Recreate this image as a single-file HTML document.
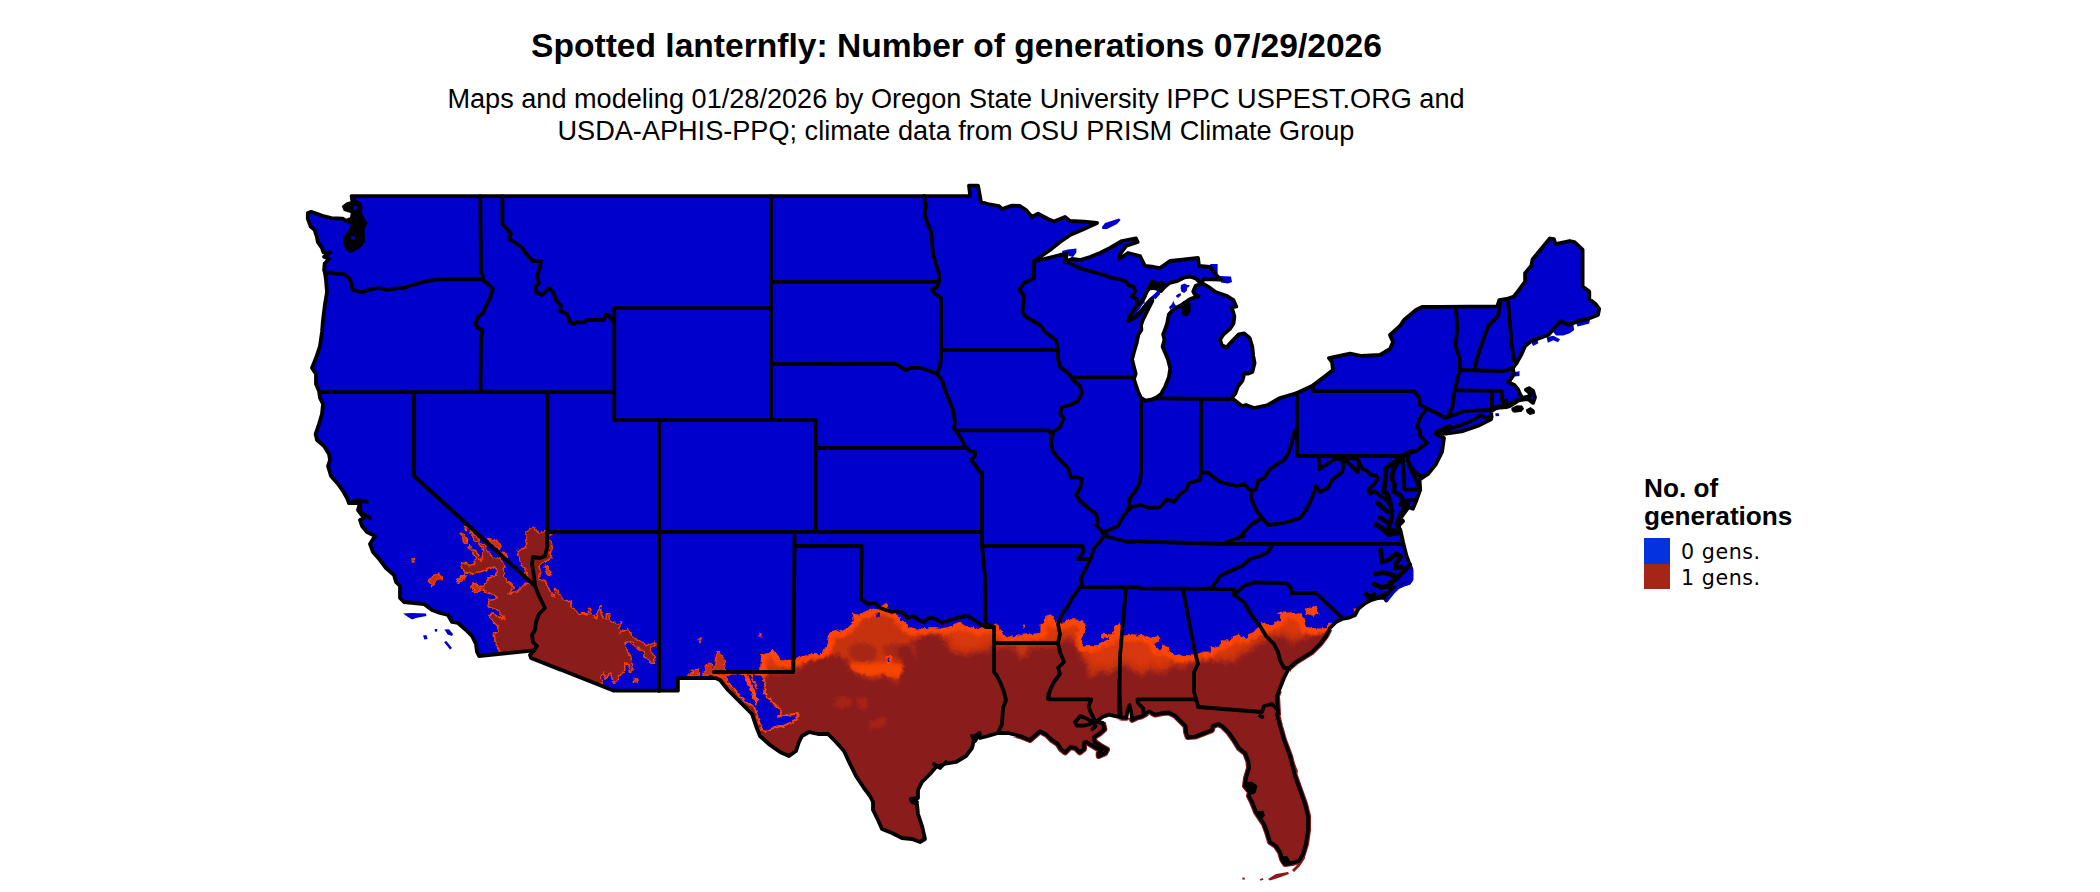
<!DOCTYPE html>
<html lang="en"><head><meta charset="utf-8"><title>Spotted lanternfly: Number of generations</title>
<style>
html,body{margin:0;padding:0;background:#fff;}
body{width:2100px;height:892px;overflow:hidden;position:relative;font-family:"Liberation Sans",Arial,sans-serif;color:#000;}
#title{position:absolute;left:0;width:1913px;top:28px;text-align:center;font-weight:bold;font-size:33.6px;line-height:36px;white-space:nowrap;}
#sub{position:absolute;left:0;width:1912px;top:83px;text-align:center;font-size:27.12px;line-height:32px;white-space:nowrap;}
#legt{position:absolute;left:1644px;top:475px;font-weight:bold;font-size:26.2px;line-height:27.5px;}
.sw{position:absolute;left:1644px;width:26px;height:26px;}
.ll{position:absolute;left:1681px;font-family:"DejaVu Sans","Liberation Sans",sans-serif;font-size:20.6px;line-height:26px;letter-spacing:0.57px;}
svg{position:absolute;left:0;top:0;}
</style></head><body>
<div id="title">Spotted lanternfly: Number of generations 07/29/2026</div>
<div id="sub">Maps and modeling 01/28/2026 by Oregon State University IPPC USPEST.ORG and<br>USDA-APHIS-PPQ; climate data from OSU PRISM Climate Group</div>
<div id="legt">No. of<br>generations</div>
<div class="sw" style="top:538px;background:#0432df"></div><div class="sw" style="top:564px;height:24.7px;background:#a52616"></div>
<div class="ll" style="top:538.8px">0 gens.</div><div class="ll" style="top:564.8px">1 gens.</div>
<svg width="2100" height="892" viewBox="0 0 2100 892">
<defs><clipPath id="land"><path d="M352.0 196.1 L970.2 196.1 L969.0 185.6 L978.0 185.6 L981.0 202.0 L988.0 204.0 L999.0 206.0 L1002.0 209.0 L1012.0 205.6 L1020.0 206.0 L1026.0 210.0 L1032.0 217.0 L1038.0 213.6 L1048.0 219.0 L1054.0 221.6 L1065.0 217.0 L1070.0 221.0 L1084.0 221.6 L1097.0 223.0 L1084.0 229.0 L1070.0 235.0 L1060.0 242.0 L1050.0 250.0 L1040.0 257.0 L1034.0 261.0 L1044.0 259.0 L1060.0 255.0 L1067.0 254.0 L1065.0 262.0 L1072.0 259.0 L1080.0 260.0 L1090.0 257.0 L1100.0 253.0 L1110.0 248.0 L1122.0 241.0 L1136.0 238.4 L1137.6 242.0 L1126.0 246.0 L1120.0 254.0 L1119.0 259.0 L1128.0 253.0 L1140.0 256.0 L1145.0 266.0 L1154.0 267.0 L1160.0 268.0 L1170.0 261.0 L1180.0 260.0 L1198.0 258.0 L1199.0 266.0 L1210.0 267.0 L1216.0 275.0 L1221.0 279.6 L1204.0 279.0 L1201.2 282.6 L1208.4 286.8 L1215.5 292.1 L1226.3 295.7 L1233.5 300.2 L1236.2 306.5 L1231.7 307.4 L1234.4 316.4 L1233.5 323.5 L1229.9 328.9 L1223.6 334.3 L1220.0 339.7 L1221.8 345.0 L1226.3 347.7 L1231.7 341.5 L1238.8 334.3 L1244.2 333.4 L1249.6 337.9 L1252.3 346.8 L1253.2 355.8 L1254.6 363.0 L1252.3 371.9 L1247.8 373.7 L1244.2 373.7 L1242.4 380.9 L1238.0 386.3 L1235.3 393.5 L1231.7 398.0 L1242.0 406.0 L1246.0 405.0 L1254.0 408.0 L1268.0 405.0 L1280.0 398.0 L1297.0 393.0 L1312.0 386.0 L1324.0 377.0 L1333.0 370.0 L1332.0 362.0 L1329.0 358.0 L1350.0 353.6 L1362.0 356.0 L1380.0 355.0 L1390.0 349.0 L1393.0 342.0 L1390.0 335.0 L1400.0 326.0 L1404.0 320.0 L1416.0 310.0 L1422.0 307.0 L1440.0 306.9 L1497.3 306.4 L1499.2 300.2 L1506.6 299.0 L1514.0 296.5 L1517.7 291.6 L1521.4 286.6 L1525.1 281.7 L1525.1 273.1 L1531.3 265.7 L1532.5 259.5 L1549.8 238.5 L1554.0 239.2 L1555.5 244.2 L1569.6 241.0 L1574.5 242.2 L1582.6 249.6 L1582.6 286.6 L1589.3 291.6 L1589.3 299.0 L1595.5 303.9 L1599.2 308.8 L1597.9 315.0 L1588.1 318.7 L1578.2 321.2 L1568.3 324.9 L1560.9 321.2 L1556.0 326.1 L1548.6 334.7 L1538.7 338.4 L1531.3 340.9 L1525.1 345.9 L1521.4 354.5 L1516.5 363.1 L1512.8 368.1 L1514.0 374.2 L1509.1 381.6 L1507.9 382.4 L1514.1 384.7 L1518.1 389.4 L1520.4 394.9 L1522.8 397.9 L1529.8 396.1 L1529.2 392.6 L1525.9 389.8 L1529.1 388.1 L1533.0 390.8 L1535.0 397.3 L1533.1 402.9 L1528.3 399.2 L1522.8 399.6 L1518.1 400.6 L1514.1 403.5 L1510.2 405.9 L1506.3 407.1 L1500.0 407.5 L1495.3 408.6 L1491.0 411.4 L1491.6 416.9 L1491.0 419.2 L1479.6 425.1 L1461.6 431.4 L1445.9 433.7 L1435.7 434.1 L1444.0 438.0 L1442.0 452.0 L1436.0 464.0 L1428.0 474.0 L1422.0 478.0 L1419.5 479.5 L1420.2 489.7 L1416.6 499.9 L1412.9 508.7 L1408.6 507.2 L1402.0 516.0 L1397.6 524.7 L1400.5 530.5 L1403.1 542.4 L1406.5 555.9 L1409.8 564.8 L1411.5 569.3 L1411.5 579.4 L1409.0 583.0 L1403.1 584.8 L1397.5 587.6 L1393.0 592.1 L1388.6 597.7 L1386.3 600.5 L1384.6 597.9 L1378.5 597.9 L1371.7 599.8 L1365.0 603.2 L1358.3 608.8 L1354.9 615.3 L1348.0 618.0 L1342.0 619.0 L1336.0 622.0 L1330.0 628.0 L1326.0 636.0 L1320.0 644.0 L1312.0 652.0 L1304.0 657.0 L1296.0 662.0 L1289.0 668.0 L1284.0 678.0 L1280.0 688.0 L1277.0 696.0 L1278.0 714.0 L1277.0 714.0 L1280.0 726.0 L1284.0 740.0 L1290.0 756.0 L1292.0 764.0 L1295.0 776.0 L1300.0 790.0 L1305.0 804.0 L1308.0 816.0 L1308.0 830.0 L1306.0 844.0 L1303.0 854.0 L1299.0 861.0 L1292.0 863.0 L1285.0 864.0 L1282.0 859.0 L1280.0 852.0 L1276.0 846.0 L1270.0 842.0 L1267.0 832.0 L1264.0 824.0 L1260.0 818.0 L1256.0 812.0 L1252.0 802.0 L1249.0 796.0 L1250.0 792.0 L1245.0 786.0 L1246.0 778.0 L1249.0 768.0 L1248.5 761.7 L1245.3 753.3 L1239.0 748.1 L1233.8 739.7 L1228.6 732.4 L1222.3 726.1 L1218.1 724.0 L1212.9 726.1 L1211.8 730.3 L1203.4 733.4 L1195.0 736.6 L1187.7 737.1 L1186.1 732.4 L1185.6 726.1 L1180.4 720.9 L1175.1 715.6 L1168.9 712.5 L1162.6 713.0 L1155.2 714.6 L1149.0 711.4 L1144.8 714.6 L1140.6 716.7 L1136.4 717.7 L1132.2 719.8 L1131.1 711.4 L1129.6 705.1 L1127.5 710.4 L1126.4 717.7 L1122.8 717.7 L1117.5 716.7 L1109.1 714.6 L1102.9 716.7 L1098.7 719.8 L1095.5 721.9 L1102.9 723.0 L1104.4 729.2 L1099.7 733.4 L1094.0 737.1 L1094.5 741.8 L1100.8 746.0 L1107.0 749.7 L1105.0 753.3 L1098.7 756.0 L1098.7 753.3 L1101.8 750.2 L1096.6 748.1 L1091.3 745.0 L1086.1 741.8 L1084.0 742.9 L1084.0 749.1 L1079.8 752.3 L1075.6 748.1 L1070.4 747.0 L1065.1 752.3 L1061.0 749.1 L1057.8 743.9 L1051.5 739.7 L1046.3 734.5 L1040.0 731.3 L1030.0 740.0 L1020.0 736.0 L1008.0 733.0 L998.0 733.0 L988.0 736.0 L980.0 738.0 L979.0 733.0 L975.0 736.0 L972.0 748.0 L966.0 756.0 L956.0 762.0 L944.0 764.0 L936.0 767.0 L930.0 774.0 L922.0 782.0 L918.0 790.0 L918.0 798.0 L911.0 799.0 L912.0 802.0 L917.0 804.0 L918.0 814.0 L922.0 826.0 L925.0 839.0 L920.0 842.0 L912.0 839.0 L902.0 838.0 L892.0 833.0 L882.0 829.0 L878.0 820.0 L873.0 810.0 L873.0 802.0 L870.0 796.0 L864.0 788.0 L856.0 776.0 L850.0 764.0 L844.0 751.0 L836.0 742.0 L828.0 734.0 L818.0 734.0 L809.0 732.0 L802.0 736.0 L799.0 742.0 L796.0 751.0 L789.0 756.0 L780.0 752.0 L770.0 745.0 L760.0 736.0 L756.0 726.0 L752.0 714.0 L750.0 712.0 L740.0 702.0 L728.0 690.0 L720.0 680.0 L715.5 678.1 L677.9 678.1 L677.9 690.7 L613.9 690.7 L531.0 658.0 L530.0 655.0 L534.0 650.4 L479.0 656.0 L477.0 652.0 L476.0 644.0 L472.0 636.0 L466.0 630.0 L458.0 623.0 L452.0 622.0 L448.0 615.0 L440.0 613.0 L432.0 610.0 L424.0 604.0 L414.0 603.0 L404.0 602.0 L400.0 598.0 L400.0 586.0 L396.0 582.0 L394.0 575.0 L386.0 568.0 L380.0 560.0 L373.0 552.0 L370.0 544.0 L375.0 536.0 L367.0 532.0 L362.0 526.0 L360.0 520.0 L364.0 518.0 L358.0 510.0 L360.0 503.0 L349.0 503.0 L347.0 498.0 L343.0 491.0 L338.0 484.0 L331.0 476.0 L328.0 466.0 L330.0 460.0 L329.0 454.0 L324.0 446.0 L317.0 440.0 L315.6 434.0 L319.0 424.0 L322.0 414.0 L323.0 404.0 L320.0 398.0 L319.0 391.0 L316.0 384.0 L316.0 374.0 L312.0 368.0 L316.0 358.0 L320.0 346.0 L322.0 332.0 L323.0 320.0 L325.0 304.0 L327.0 292.0 L326.0 280.0 L325.0 273.0 L324.1 270.2 L324.7 263.5 L329.1 259.0 L324.1 256.7 L330.3 252.3 L323.5 252.3 L321.9 247.8 L317.9 242.2 L316.8 236.6 L314.6 229.8 L310.7 226.5 L307.8 218.6 L307.8 213.0 L311.2 211.9 L322.4 215.8 L331.4 218.1 L342.6 218.6 L346.0 220.9 L351.6 218.6 L352.7 213.0 L352.7 201.8 L351.6 196.2 Z"/><path d="M1495.3 413.3 L1498.8 413.3 L1499.2 416.1 L1495.7 416.2 Z"/></clipPath><clipPath id="seout"><path d="M712.7 672.1 L760.2 672.1 L761.1 655.6 L769.2 652.0 L772.8 648.5 L778.2 655.6 L780.0 660.3 L791.1 660.9 L794.8 660.3 L798.5 657.8 L810.8 654.1 L821.9 654.1 L823.2 649.2 L826.9 648.0 L828.1 641.8 L829.3 633.2 L836.7 629.5 L841.7 631.9 L849.1 625.8 L854.0 620.8 L852.8 613.4 L858.9 614.7 L866.3 611.6 L873.7 608.5 L877.4 609.7 L882.4 606.0 L886.7 602.3 L886.7 607.3 L891.0 611.0 L898.4 614.7 L900.2 619.6 L907.0 622.7 L908.3 628.2 L915.7 629.5 L924.3 628.2 L934.1 627.0 L942.8 628.2 L952.6 625.8 L958.8 622.1 L965.0 625.8 L972.4 627.0 L977.3 629.5 L983.5 627.0 L992.1 627.0 L996.2 622.2 L999.9 629.6 L1003.6 635.1 L1009.7 637.0 L1020.8 635.1 L1033.2 633.9 L1040.6 632.7 L1040.6 624.7 L1044.9 621.0 L1045.5 614.2 L1052.9 616.6 L1055.4 622.8 L1064.0 622.8 L1068.9 619.1 L1082.5 620.3 L1085.6 628.4 L1082.5 635.8 L1081.9 645.6 L1088.7 646.2 L1097.3 645.0 L1101.0 641.9 L1108.4 640.1 L1110.2 637.0 L1102.2 637.6 L1100.4 635.8 L1103.5 633.9 L1113.3 634.5 L1113.3 629.0 L1118.9 622.8 L1121.3 628.4 L1123.2 635.8 L1129.3 635.1 L1135.5 635.8 L1141.7 635.1 L1149.1 638.2 L1154.0 637.0 L1157.7 635.8 L1161.4 638.2 L1155.2 643.2 L1156.5 649.3 L1161.4 649.3 L1162.6 644.4 L1167.6 646.9 L1170.0 651.8 L1177.4 655.5 L1187.3 655.5 L1193.5 654.3 L1199.6 651.8 L1210.0 651.8 L1209.7 648.0 L1219.6 645.5 L1220.8 640.6 L1229.5 640.6 L1231.9 636.9 L1239.3 634.4 L1240.6 636.9 L1245.5 637.5 L1246.7 635.0 L1252.9 632.5 L1259.1 628.2 L1260.9 622.7 L1265.2 623.9 L1266.5 625.8 L1273.9 624.5 L1276.3 620.8 L1280.0 620.2 L1280.6 614.7 L1276.9 613.4 L1278.8 612.0 L1288.7 611.6 L1294.8 614.0 L1301.0 613.4 L1303.5 618.4 L1305.9 627.0 L1313.3 628.2 L1320.7 628.8 L1325.7 628.2 L1329.3 624.5 L1333.0 622.1 L1362.6 614.7 L1700.0 600.0 L1700.0 900.0 L712.0 900.0 Z"/></clipPath>
<filter id="bl1" x="-20%" y="-20%" width="140%" height="140%"><feGaussianBlur stdDeviation="1.5"/></filter>
<filter id="bl2" x="-20%" y="-20%" width="140%" height="140%"><feGaussianBlur stdDeviation="2"/></filter>
<filter id="bl3" x="-5%" y="-20%" width="110%" height="140%"><feGaussianBlur stdDeviation="3"/></filter>
<filter id="rag" x="0" y="0" width="2100" height="892" filterUnits="userSpaceOnUse"><feTurbulence type="fractalNoise" baseFrequency="0.22" numOctaves="2" seed="7" result="n"/><feDisplacementMap in="SourceGraphic" in2="n" scale="5" xChannelSelector="R" yChannelSelector="G"/></filter>
<clipPath id="gulf"><polygon points="968,892 968,790 1000,740 1290,690 1290,650 1330,630 1420,630 1420,892"/></clipPath>
</defs>
<g fill="#0000cd" stroke="none">
<path d="M352.0 196.1 L970.2 196.1 L969.0 185.6 L978.0 185.6 L981.0 202.0 L988.0 204.0 L999.0 206.0 L1002.0 209.0 L1012.0 205.6 L1020.0 206.0 L1026.0 210.0 L1032.0 217.0 L1038.0 213.6 L1048.0 219.0 L1054.0 221.6 L1065.0 217.0 L1070.0 221.0 L1084.0 221.6 L1097.0 223.0 L1084.0 229.0 L1070.0 235.0 L1060.0 242.0 L1050.0 250.0 L1040.0 257.0 L1034.0 261.0 L1044.0 259.0 L1060.0 255.0 L1067.0 254.0 L1065.0 262.0 L1072.0 259.0 L1080.0 260.0 L1090.0 257.0 L1100.0 253.0 L1110.0 248.0 L1122.0 241.0 L1136.0 238.4 L1137.6 242.0 L1126.0 246.0 L1120.0 254.0 L1119.0 259.0 L1128.0 253.0 L1140.0 256.0 L1145.0 266.0 L1154.0 267.0 L1160.0 268.0 L1170.0 261.0 L1180.0 260.0 L1198.0 258.0 L1199.0 266.0 L1210.0 267.0 L1216.0 275.0 L1221.0 279.6 L1204.0 279.0 L1201.2 282.6 L1208.4 286.8 L1215.5 292.1 L1226.3 295.7 L1233.5 300.2 L1236.2 306.5 L1231.7 307.4 L1234.4 316.4 L1233.5 323.5 L1229.9 328.9 L1223.6 334.3 L1220.0 339.7 L1221.8 345.0 L1226.3 347.7 L1231.7 341.5 L1238.8 334.3 L1244.2 333.4 L1249.6 337.9 L1252.3 346.8 L1253.2 355.8 L1254.6 363.0 L1252.3 371.9 L1247.8 373.7 L1244.2 373.7 L1242.4 380.9 L1238.0 386.3 L1235.3 393.5 L1231.7 398.0 L1242.0 406.0 L1246.0 405.0 L1254.0 408.0 L1268.0 405.0 L1280.0 398.0 L1297.0 393.0 L1312.0 386.0 L1324.0 377.0 L1333.0 370.0 L1332.0 362.0 L1329.0 358.0 L1350.0 353.6 L1362.0 356.0 L1380.0 355.0 L1390.0 349.0 L1393.0 342.0 L1390.0 335.0 L1400.0 326.0 L1404.0 320.0 L1416.0 310.0 L1422.0 307.0 L1440.0 306.9 L1497.3 306.4 L1499.2 300.2 L1506.6 299.0 L1514.0 296.5 L1517.7 291.6 L1521.4 286.6 L1525.1 281.7 L1525.1 273.1 L1531.3 265.7 L1532.5 259.5 L1549.8 238.5 L1554.0 239.2 L1555.5 244.2 L1569.6 241.0 L1574.5 242.2 L1582.6 249.6 L1582.6 286.6 L1589.3 291.6 L1589.3 299.0 L1595.5 303.9 L1599.2 308.8 L1597.9 315.0 L1588.1 318.7 L1578.2 321.2 L1568.3 324.9 L1560.9 321.2 L1556.0 326.1 L1548.6 334.7 L1538.7 338.4 L1531.3 340.9 L1525.1 345.9 L1521.4 354.5 L1516.5 363.1 L1512.8 368.1 L1514.0 374.2 L1509.1 381.6 L1507.9 382.4 L1514.1 384.7 L1518.1 389.4 L1520.4 394.9 L1522.8 397.9 L1529.8 396.1 L1529.2 392.6 L1525.9 389.8 L1529.1 388.1 L1533.0 390.8 L1535.0 397.3 L1533.1 402.9 L1528.3 399.2 L1522.8 399.6 L1518.1 400.6 L1514.1 403.5 L1510.2 405.9 L1506.3 407.1 L1500.0 407.5 L1495.3 408.6 L1491.0 411.4 L1491.6 416.9 L1491.0 419.2 L1479.6 425.1 L1461.6 431.4 L1445.9 433.7 L1435.7 434.1 L1444.0 438.0 L1442.0 452.0 L1436.0 464.0 L1428.0 474.0 L1422.0 478.0 L1419.5 479.5 L1420.2 489.7 L1416.6 499.9 L1412.9 508.7 L1408.6 507.2 L1402.0 516.0 L1397.6 524.7 L1400.5 530.5 L1403.1 542.4 L1406.5 555.9 L1409.8 564.8 L1411.5 569.3 L1411.5 579.4 L1409.0 583.0 L1403.1 584.8 L1397.5 587.6 L1393.0 592.1 L1388.6 597.7 L1386.3 600.5 L1384.6 597.9 L1378.5 597.9 L1371.7 599.8 L1365.0 603.2 L1358.3 608.8 L1354.9 615.3 L1348.0 618.0 L1342.0 619.0 L1336.0 622.0 L1330.0 628.0 L1326.0 636.0 L1320.0 644.0 L1312.0 652.0 L1304.0 657.0 L1296.0 662.0 L1289.0 668.0 L1284.0 678.0 L1280.0 688.0 L1277.0 696.0 L1278.0 714.0 L1277.0 714.0 L1280.0 726.0 L1284.0 740.0 L1290.0 756.0 L1292.0 764.0 L1295.0 776.0 L1300.0 790.0 L1305.0 804.0 L1308.0 816.0 L1308.0 830.0 L1306.0 844.0 L1303.0 854.0 L1299.0 861.0 L1292.0 863.0 L1285.0 864.0 L1282.0 859.0 L1280.0 852.0 L1276.0 846.0 L1270.0 842.0 L1267.0 832.0 L1264.0 824.0 L1260.0 818.0 L1256.0 812.0 L1252.0 802.0 L1249.0 796.0 L1250.0 792.0 L1245.0 786.0 L1246.0 778.0 L1249.0 768.0 L1248.5 761.7 L1245.3 753.3 L1239.0 748.1 L1233.8 739.7 L1228.6 732.4 L1222.3 726.1 L1218.1 724.0 L1212.9 726.1 L1211.8 730.3 L1203.4 733.4 L1195.0 736.6 L1187.7 737.1 L1186.1 732.4 L1185.6 726.1 L1180.4 720.9 L1175.1 715.6 L1168.9 712.5 L1162.6 713.0 L1155.2 714.6 L1149.0 711.4 L1144.8 714.6 L1140.6 716.7 L1136.4 717.7 L1132.2 719.8 L1131.1 711.4 L1129.6 705.1 L1127.5 710.4 L1126.4 717.7 L1122.8 717.7 L1117.5 716.7 L1109.1 714.6 L1102.9 716.7 L1098.7 719.8 L1095.5 721.9 L1102.9 723.0 L1104.4 729.2 L1099.7 733.4 L1094.0 737.1 L1094.5 741.8 L1100.8 746.0 L1107.0 749.7 L1105.0 753.3 L1098.7 756.0 L1098.7 753.3 L1101.8 750.2 L1096.6 748.1 L1091.3 745.0 L1086.1 741.8 L1084.0 742.9 L1084.0 749.1 L1079.8 752.3 L1075.6 748.1 L1070.4 747.0 L1065.1 752.3 L1061.0 749.1 L1057.8 743.9 L1051.5 739.7 L1046.3 734.5 L1040.0 731.3 L1030.0 740.0 L1020.0 736.0 L1008.0 733.0 L998.0 733.0 L988.0 736.0 L980.0 738.0 L979.0 733.0 L975.0 736.0 L972.0 748.0 L966.0 756.0 L956.0 762.0 L944.0 764.0 L936.0 767.0 L930.0 774.0 L922.0 782.0 L918.0 790.0 L918.0 798.0 L911.0 799.0 L912.0 802.0 L917.0 804.0 L918.0 814.0 L922.0 826.0 L925.0 839.0 L920.0 842.0 L912.0 839.0 L902.0 838.0 L892.0 833.0 L882.0 829.0 L878.0 820.0 L873.0 810.0 L873.0 802.0 L870.0 796.0 L864.0 788.0 L856.0 776.0 L850.0 764.0 L844.0 751.0 L836.0 742.0 L828.0 734.0 L818.0 734.0 L809.0 732.0 L802.0 736.0 L799.0 742.0 L796.0 751.0 L789.0 756.0 L780.0 752.0 L770.0 745.0 L760.0 736.0 L756.0 726.0 L752.0 714.0 L750.0 712.0 L740.0 702.0 L728.0 690.0 L720.0 680.0 L715.5 678.1 L677.9 678.1 L677.9 690.7 L613.9 690.7 L531.0 658.0 L530.0 655.0 L534.0 650.4 L479.0 656.0 L477.0 652.0 L476.0 644.0 L472.0 636.0 L466.0 630.0 L458.0 623.0 L452.0 622.0 L448.0 615.0 L440.0 613.0 L432.0 610.0 L424.0 604.0 L414.0 603.0 L404.0 602.0 L400.0 598.0 L400.0 586.0 L396.0 582.0 L394.0 575.0 L386.0 568.0 L380.0 560.0 L373.0 552.0 L370.0 544.0 L375.0 536.0 L367.0 532.0 L362.0 526.0 L360.0 520.0 L364.0 518.0 L358.0 510.0 L360.0 503.0 L349.0 503.0 L347.0 498.0 L343.0 491.0 L338.0 484.0 L331.0 476.0 L328.0 466.0 L330.0 460.0 L329.0 454.0 L324.0 446.0 L317.0 440.0 L315.6 434.0 L319.0 424.0 L322.0 414.0 L323.0 404.0 L320.0 398.0 L319.0 391.0 L316.0 384.0 L316.0 374.0 L312.0 368.0 L316.0 358.0 L320.0 346.0 L322.0 332.0 L323.0 320.0 L325.0 304.0 L327.0 292.0 L326.0 280.0 L325.0 273.0 L324.1 270.2 L324.7 263.5 L329.1 259.0 L324.1 256.7 L330.3 252.3 L323.5 252.3 L321.9 247.8 L317.9 242.2 L316.8 236.6 L314.6 229.8 L310.7 226.5 L307.8 218.6 L307.8 213.0 L311.2 211.9 L322.4 215.8 L331.4 218.1 L342.6 218.6 L346.0 220.9 L351.6 218.6 L352.7 213.0 L352.7 201.8 L351.6 196.2 Z"/>
<path d="M1495.3 413.3 L1498.8 413.3 L1499.2 416.1 L1495.7 416.2 Z"/>
<path d="M1102.0 227.0 L1105.0 223.0 L1119.0 218.4 L1120.6 220.0 L1117.0 224.0 L1107.0 229.0 L1102.4 229.0 Z"/>
<path d="M1062.0 251.0 L1068.0 249.6 L1076.4 248.4 L1076.4 252.4 L1073.0 257.0 L1069.0 256.0 L1068.0 253.0 L1062.4 253.0 Z"/>
<path d="M1220.0 276.0 L1231.0 276.6 L1232.0 282.0 L1228.0 283.6 L1221.0 282.4 Z"/>
<path d="M1210.0 264.0 L1217.6 264.0 L1217.6 274.0 L1214.4 274.0 Z"/>
<path d="M403.0 613.6 L412.0 613.0 L426.0 613.6 L426.4 616.0 L416.0 618.0 L412.0 619.6 L408.0 617.0 Z"/>
<path d="M423.0 635.6 L426.4 635.0 L427.6 639.0 L424.4 639.6 Z"/>
<path d="M444.4 629.6 L449.0 629.2 L453.0 634.0 L452.0 636.0 L447.6 634.4 Z"/>
<path d="M444.0 642.0 L446.4 641.0 L452.0 648.0 L450.0 649.6 Z"/>
<path d="M434.8 629.0 L437.2 629.0 L437.2 631.6 L434.8 631.6 Z"/>
<path d="M1514.0 372.5 L1519.5 371.0 L1519.5 376.0 L1515.0 376.5 Z"/>
<path d="M1552.6 325.1 L1560.0 320.4 L1565.4 324.4 L1573.4 324.4 L1574.2 330.1 L1569.7 333.3 L1563.3 335.4 L1556.2 335.4 L1553.3 332.2 Z"/>
<path d="M1576.1 322.8 L1584.2 320.1 L1589.9 319.8 L1589.3 323.6 L1582.9 325.2 L1577.5 326.6 Z"/>
<path d="M1546.5 337.2 L1553.3 335.8 L1560.0 339.2 L1558.0 342.2 L1553.3 340.3 L1547.9 342.7 Z"/>
<path d="M1530.4 340.6 L1537.1 339.2 L1538.4 343.3 L1533.1 345.9 Z"/>
</g>
<g clip-path="url(#land)"><g filter="url(#rag)">
<path d="M712.7 672.1 L760.2 672.1 L761.1 655.6 L769.2 652.0 L772.8 648.5 L778.2 655.6 L780.0 660.3 L791.1 660.9 L794.8 660.3 L798.5 657.8 L810.8 654.1 L821.9 654.1 L823.2 649.2 L826.9 648.0 L828.1 641.8 L829.3 633.2 L836.7 629.5 L841.7 631.9 L849.1 625.8 L854.0 620.8 L852.8 613.4 L858.9 614.7 L866.3 611.6 L873.7 608.5 L877.4 609.7 L882.4 606.0 L886.7 602.3 L886.7 607.3 L891.0 611.0 L898.4 614.7 L900.2 619.6 L907.0 622.7 L908.3 628.2 L915.7 629.5 L924.3 628.2 L934.1 627.0 L942.8 628.2 L952.6 625.8 L958.8 622.1 L965.0 625.8 L972.4 627.0 L977.3 629.5 L983.5 627.0 L992.1 627.0 L996.2 622.2 L999.9 629.6 L1003.6 635.1 L1009.7 637.0 L1020.8 635.1 L1033.2 633.9 L1040.6 632.7 L1040.6 624.7 L1044.9 621.0 L1045.5 614.2 L1052.9 616.6 L1055.4 622.8 L1064.0 622.8 L1068.9 619.1 L1082.5 620.3 L1085.6 628.4 L1082.5 635.8 L1081.9 645.6 L1088.7 646.2 L1097.3 645.0 L1101.0 641.9 L1108.4 640.1 L1110.2 637.0 L1102.2 637.6 L1100.4 635.8 L1103.5 633.9 L1113.3 634.5 L1113.3 629.0 L1118.9 622.8 L1121.3 628.4 L1123.2 635.8 L1129.3 635.1 L1135.5 635.8 L1141.7 635.1 L1149.1 638.2 L1154.0 637.0 L1157.7 635.8 L1161.4 638.2 L1155.2 643.2 L1156.5 649.3 L1161.4 649.3 L1162.6 644.4 L1167.6 646.9 L1170.0 651.8 L1177.4 655.5 L1187.3 655.5 L1193.5 654.3 L1199.6 651.8 L1210.0 651.8 L1209.7 648.0 L1219.6 645.5 L1220.8 640.6 L1229.5 640.6 L1231.9 636.9 L1239.3 634.4 L1240.6 636.9 L1245.5 637.5 L1246.7 635.0 L1252.9 632.5 L1259.1 628.2 L1260.9 622.7 L1265.2 623.9 L1266.5 625.8 L1273.9 624.5 L1276.3 620.8 L1280.0 620.2 L1280.6 614.7 L1276.9 613.4 L1278.8 612.0 L1288.7 611.6 L1294.8 614.0 L1301.0 613.4 L1303.5 618.4 L1305.9 627.0 L1313.3 628.2 L1320.7 628.8 L1325.7 628.2 L1329.3 624.5 L1333.0 622.1 L1362.6 614.7 L1700.0 600.0 L1700.0 900.0 L712.0 900.0 Z" fill="#d8370a"/>
<path d="M1305.9 608.5 L1315.8 606.0 L1318.3 609.7 L1318.3 614.0 L1313.3 615.9 L1307.2 614.0 Z" fill="#ff4500"/>
<path d="M1353.4 608.5 L1356.5 608.5 L1356.5 612.4 L1353.8 612.2 Z" fill="#ff4500"/>
<path d="M1023.0 625.7 L1025.0 625.7 L1025.0 627.6 L1023.0 627.6 Z" fill="#ff4500"/>
<g clip-path="url(#seout)">
<path d="M765.6 680.8 L769.2 675.4 L794.3 673.9 L799.7 670.2 L810.8 661.5 L821.9 659.1 L831.8 656.6 L839.2 656.6 L845.4 661.5 L849.1 668.9 L854.0 673.9 L866.3 678.8 L873.7 681.3 L884.8 676.3 L891.0 681.3 L897.2 686.2 L900.9 676.3 L904.6 668.9 L903.3 661.5 L898.4 654.1 L895.9 650.4 L903.3 645.5 L908.3 644.3 L912.0 651.7 L915.7 659.1 L916.9 651.7 L914.4 643.0 L921.8 636.9 L931.7 634.4 L940.3 638.1 L944.0 643.0 L948.9 651.7 L957.6 655.4 L967.4 656.6 L977.3 654.1 L987.2 652.9 L992.1 651.7 L990.0 649.3 L1012.2 649.3 L1019.6 659.2 L1027.0 658.0 L1030.7 649.3 L1056.6 648.1 L1064.0 641.9 L1070.2 640.7 L1076.3 649.3 L1086.2 669.1 L1087.4 678.9 L1094.8 676.5 L1101.0 672.8 L1110.9 675.2 L1118.3 669.1 L1124.4 666.6 L1133.0 672.8 L1141.7 677.7 L1150.3 671.5 L1155.2 674.0 L1166.3 674.0 L1175.0 666.6 L1182.4 670.3 L1192.2 664.1 L1199.6 664.1 L1210.0 661.7 L1214.7 664.0 L1222.1 662.8 L1227.0 664.0 L1236.9 662.8 L1241.8 656.6 L1251.7 651.7 L1259.1 645.5 L1266.5 643.0 L1268.9 639.3 L1276.3 639.3 L1283.7 638.1 L1291.1 644.3 L1292.4 648.0 L1298.5 641.8 L1305.9 639.3 L1313.3 636.9 L1320.7 635.6 L1324.4 633.2 L1362.6 627.0 L1700.0 660.0 L1700.0 900.0 L712.0 900.0 L712.0 700.0 Z" fill="#c5300d" stroke="#c5300d" stroke-width="16" stroke-linejoin="round" filter="url(#bl2)"/>
<path d="M765.6 680.8 L769.2 675.4 L794.3 673.9 L799.7 670.2 L810.8 661.5 L821.9 659.1 L831.8 656.6 L839.2 656.6 L845.4 661.5 L849.1 668.9 L854.0 673.9 L866.3 678.8 L873.7 681.3 L884.8 676.3 L891.0 681.3 L897.2 686.2 L900.9 676.3 L904.6 668.9 L903.3 661.5 L898.4 654.1 L895.9 650.4 L903.3 645.5 L908.3 644.3 L912.0 651.7 L915.7 659.1 L916.9 651.7 L914.4 643.0 L921.8 636.9 L931.7 634.4 L940.3 638.1 L944.0 643.0 L948.9 651.7 L957.6 655.4 L967.4 656.6 L977.3 654.1 L987.2 652.9 L992.1 651.7 L990.0 649.3 L1012.2 649.3 L1019.6 659.2 L1027.0 658.0 L1030.7 649.3 L1056.6 648.1 L1064.0 641.9 L1070.2 640.7 L1076.3 649.3 L1086.2 669.1 L1087.4 678.9 L1094.8 676.5 L1101.0 672.8 L1110.9 675.2 L1118.3 669.1 L1124.4 666.6 L1133.0 672.8 L1141.7 677.7 L1150.3 671.5 L1155.2 674.0 L1166.3 674.0 L1175.0 666.6 L1182.4 670.3 L1192.2 664.1 L1199.6 664.1 L1210.0 661.7 L1214.7 664.0 L1222.1 662.8 L1227.0 664.0 L1236.9 662.8 L1241.8 656.6 L1251.7 651.7 L1259.1 645.5 L1266.5 643.0 L1268.9 639.3 L1276.3 639.3 L1283.7 638.1 L1291.1 644.3 L1292.4 648.0 L1298.5 641.8 L1305.9 639.3 L1313.3 636.9 L1320.7 635.6 L1324.4 633.2 L1362.6 627.0 L1700.0 660.0 L1700.0 900.0 L712.0 900.0 L712.0 700.0 Z" fill="#a82514" stroke="#a82514" stroke-width="7" stroke-linejoin="round" filter="url(#bl1)"/>
<g filter="url(#bl2)">
<path d="M831.8 639.3 L838.0 633.2 L844.1 634.4 L851.5 628.2 L856.5 623.3 L858.9 618.4 L866.3 615.9 L875.0 613.4 L882.4 612.2 L891.0 614.7 L897.2 619.6 L902.1 627.0 L908.3 631.9 L910.7 641.8 L908.3 644.3 L903.3 645.5 L895.9 650.4 L898.4 654.1 L902.1 659.1 L891.0 659.1 L882.4 659.1 L877.4 664.0 L871.3 662.8 L866.3 664.0 L856.5 662.8 L849.1 659.1 L844.1 654.1 L834.3 651.7 L829.3 645.5 Z" fill="#c5300d"/>
</g>
<path d="M712.7 672.1 L760.2 672.1 L761.1 655.6 L769.2 652.0 L772.8 648.5 L778.2 655.6 L780.0 660.3 L791.1 660.9 L794.8 660.3 L798.5 657.8 L810.8 654.1 L821.9 654.1 L823.2 649.2 L826.9 648.0 L828.1 641.8 L829.3 633.2 L836.7 629.5 L841.7 631.9 L849.1 625.8 L854.0 620.8 L852.8 613.4 L858.9 614.7 L866.3 611.6 L873.7 608.5 L877.4 609.7 L882.4 606.0 L886.7 602.3 L886.7 607.3 L891.0 611.0 L898.4 614.7 L900.2 619.6 L907.0 622.7 L908.3 628.2 L915.7 629.5 L924.3 628.2 L934.1 627.0 L942.8 628.2 L952.6 625.8 L958.8 622.1 L965.0 625.8 L972.4 627.0 L977.3 629.5 L983.5 627.0 L992.1 627.0 L996.2 622.2 L999.9 629.6 L1003.6 635.1 L1009.7 637.0 L1020.8 635.1 L1033.2 633.9 L1040.6 632.7 L1040.6 624.7 L1044.9 621.0 L1045.5 614.2 L1052.9 616.6 L1055.4 622.8 L1064.0 622.8 L1068.9 619.1 L1082.5 620.3 L1085.6 628.4 L1082.5 635.8 L1081.9 645.6 L1088.7 646.2 L1097.3 645.0 L1101.0 641.9 L1108.4 640.1 L1110.2 637.0 L1102.2 637.6 L1100.4 635.8 L1103.5 633.9 L1113.3 634.5 L1113.3 629.0 L1118.9 622.8 L1121.3 628.4 L1123.2 635.8 L1129.3 635.1 L1135.5 635.8 L1141.7 635.1 L1149.1 638.2 L1154.0 637.0 L1157.7 635.8 L1161.4 638.2 L1155.2 643.2 L1156.5 649.3 L1161.4 649.3 L1162.6 644.4 L1167.6 646.9 L1170.0 651.8 L1177.4 655.5 L1187.3 655.5 L1193.5 654.3 L1199.6 651.8 L1210.0 651.8 L1209.7 648.0 L1219.6 645.5 L1220.8 640.6 L1229.5 640.6 L1231.9 636.9 L1239.3 634.4 L1240.6 636.9 L1245.5 637.5 L1246.7 635.0 L1252.9 632.5 L1259.1 628.2 L1260.9 622.7 L1265.2 623.9 L1266.5 625.8 L1273.9 624.5 L1276.3 620.8 L1280.0 620.2 L1280.6 614.7 L1276.9 613.4 L1278.8 612.0 L1288.7 611.6 L1294.8 614.0 L1301.0 613.4 L1303.5 618.4 L1305.9 627.0 L1313.3 628.2 L1320.7 628.8 L1325.7 628.2 L1329.3 624.5 L1333.0 622.1 L1362.6 614.7" fill="none" stroke="#ff4500" stroke-width="12" stroke-linejoin="round" filter="url(#bl1)"/>
<g filter="url(#bl1)">
<path d="M849.1 645.5 L858.9 643.0 L871.3 644.3 L876.2 649.2 L875.0 659.1 L866.3 662.1 L856.5 661.5 L849.7 656.6 Z" fill="#a82514"/>
<path d="M883.6 645.5 L893.5 643.0 L903.3 645.5 L905.8 651.7 L902.1 658.4 L891.0 657.8 L884.8 654.1 Z" fill="#a82514"/>
<path d="M825.6 676.3 L834.3 670.2 L846.6 673.9 L849.1 681.3 L839.2 686.2 L829.3 682.5 Z" fill="#a82514"/>
<path d="M850.3 662.8 L866.3 664.0 L878.7 662.8 L891.0 664.0 L902.1 664.0 L903.3 671.4 L898.4 678.8 L891.0 676.3 L883.6 673.9 L873.7 676.3 L863.9 675.1 L854.0 671.4 Z" fill="#f64406"/>
</g>
<path d="M765.6 680.8 L769.2 675.4 L794.3 673.9 L799.7 670.2 L810.8 661.5 L821.9 659.1 L831.8 656.6 L839.2 656.6 L845.4 661.5 L849.1 668.9 L854.0 673.9 L866.3 678.8 L873.7 681.3 L884.8 676.3 L891.0 681.3 L897.2 686.2 L900.9 676.3 L904.6 668.9 L903.3 661.5 L898.4 654.1 L895.9 650.4 L903.3 645.5 L908.3 644.3 L912.0 651.7 L915.7 659.1 L916.9 651.7 L914.4 643.0 L921.8 636.9 L931.7 634.4 L940.3 638.1 L944.0 643.0 L948.9 651.7 L957.6 655.4 L967.4 656.6 L977.3 654.1 L987.2 652.9 L992.1 651.7 L990.0 649.3 L1012.2 649.3 L1019.6 659.2 L1027.0 658.0 L1030.7 649.3 L1056.6 648.1 L1064.0 641.9 L1070.2 640.7 L1076.3 649.3 L1086.2 669.1 L1087.4 678.9 L1094.8 676.5 L1101.0 672.8 L1110.9 675.2 L1118.3 669.1 L1124.4 666.6 L1133.0 672.8 L1141.7 677.7 L1150.3 671.5 L1155.2 674.0 L1166.3 674.0 L1175.0 666.6 L1182.4 670.3 L1192.2 664.1 L1199.6 664.1 L1210.0 661.7 L1214.7 664.0 L1222.1 662.8 L1227.0 664.0 L1236.9 662.8 L1241.8 656.6 L1251.7 651.7 L1259.1 645.5 L1266.5 643.0 L1268.9 639.3 L1276.3 639.3 L1283.7 638.1 L1291.1 644.3 L1292.4 648.0 L1298.5 641.8 L1305.9 639.3 L1313.3 636.9 L1320.7 635.6 L1324.4 633.2 L1362.6 627.0 L1700.0 660.0 L1700.0 900.0 L712.0 900.0 L712.0 700.0 Z" fill="#8b1a1a" filter="url(#bl1)"/>
<path d="M834.0 700.0 L842.0 696.0 L852.0 698.0 L851.0 706.0 L842.0 708.4 L835.0 706.0 Z" fill="#a52416" filter="url(#bl1)"/>
<path d="M856.0 698.0 L864.0 696.0 L868.4 702.0 L866.0 709.6 L859.0 710.0 Z" fill="#a52416" filter="url(#bl1)"/>
<path d="M869.0 722.0 L878.0 718.0 L886.0 717.0 L887.0 724.0 L878.0 728.0 L870.0 729.0 Z" fill="#a52416" filter="url(#bl1)"/>
<path d="M886.3 657.6 L888.5 656.0 L890.7 657.6 L891.0 661.5 L888.8 664.2 L886.5 662.8 Z" fill="#0000cd"/>
<path d="M876.2 613.4 L879.9 613.4 L879.9 617.7 L876.2 617.7 Z" fill="#0000cd"/>
</g>
<path d="M724.3 673.6 L762.0 673.6 L765.6 686.1 L763.8 693.3 L771.0 700.5 L776.4 705.9 L781.8 711.3 L779.1 716.6 L788.9 714.8 L797.6 713.4 L797.0 720.2 L788.9 723.8 L783.6 725.6 L772.8 728.3 L765.6 731.0 L762.0 729.2 L759.3 723.8 L756.6 714.8 L754.8 707.7 L747.7 703.2 L740.5 696.9 L735.1 689.7 L727.9 682.5 Z" fill="#0000cd" stroke="#ff4500" stroke-width="2"/>
<path d="M887.0 656.0 L890.0 656.0 L891.0 662.0 L888.0 664.0 L886.4 660.0 Z" fill="#0000cd" stroke="#ff4500" stroke-width="2"/>
<path d="M744.1 673.9 L747.7 673.9 L752.2 684.3 L759.3 699.6 L755.7 705.0 L749.5 689.7 L745.9 679.9 Z" fill="#ff4500"/>
<path d="M749.5 673.9 L751.3 673.9 L757.5 689.7 L756.3 690.6 Z" fill="#ff4500"/>
<path d="M499.8 653.0 L498.2 647.4 L495.3 642.9 L494.2 634.0 L497.6 631.7 L498.7 627.2 L494.2 622.8 L489.7 618.3 L488.6 614.9 L493.1 613.8 L497.6 616.0 L502.1 619.4 L504.3 617.2 L499.8 612.7 L495.3 609.3 L490.9 607.1 L488.1 604.3 L489.7 600.3 L494.2 599.2 L497.6 597.5 L492.0 593.6 L486.4 592.5 L483.0 589.1 L477.4 591.4 L472.9 589.1 L471.8 584.1 L476.3 584.1 L480.8 586.9 L484.1 584.7 L487.5 581.3 L488.6 577.9 L493.1 576.8 L496.5 574.6 L497.6 570.1 L494.2 566.7 L488.6 569.0 L483.0 571.2 L477.4 572.3 L471.8 574.6 L466.2 572.3 L461.7 569.0 L461.7 563.4 L466.2 562.2 L469.6 566.7 L475.2 564.5 L474.1 560.0 L476.2 558.4 L472.2 552.4 L469.2 547.3 L470.2 545.3 L475.2 550.4 L479.3 557.4 L481.3 560.5 L483.3 555.4 L482.3 548.3 L478.3 543.3 L474.2 540.3 L471.2 534.2 L469.2 528.2 L473.2 533.2 L480.3 542.3 L485.3 546.3 L488.3 552.4 L494.4 557.4 L500.5 558.4 L503.5 564.5 L504.5 570.6 L503.5 575.6 L506.5 580.6 L511.6 584.7 L513.3 588.0 L508.8 593.6 L516.6 591.4 L522.2 586.9 L526.7 582.4 L532.3 583.0 L526.7 574.6 L524.7 568.5 L520.6 564.5 L519.6 558.4 L517.6 554.4 L518.6 549.4 L524.7 548.3 L526.7 543.3 L525.7 537.2 L525.7 532.2 L529.7 529.2 L534.8 527.7 L537.8 533.2 L540.8 532.7 L545.9 530.2 L550.9 533.2 L548.9 538.3 L551.9 544.3 L550.9 550.4 L549.4 554.4 L550.9 558.4 L546.9 560.5 L542.8 562.5 L538.8 566.5 L540.8 572.6 L538.8 579.6 L538.7 578.7 L544.6 580.2 L547.5 586.0 L550.4 591.9 L554.1 596.2 L554.8 587.5 L557.7 589.0 L559.2 594.8 L563.5 600.6 L567.9 602.1 L571.5 599.9 L570.8 606.4 L575.2 610.8 L581.0 613.7 L588.3 613.7 L588.3 608.6 L590.5 608.6 L591.2 613.7 L595.6 618.1 L597.1 612.3 L600.0 606.4 L601.4 613.7 L602.9 618.1 L605.8 619.6 L606.5 613.7 L608.7 613.7 L609.4 619.6 L616.0 623.9 L620.4 623.2 L621.8 621.7 L618.9 628.3 L620.4 632.7 L624.8 629.8 L628.4 629.8 L630.6 634.1 L636.4 638.5 L642.2 642.9 L646.6 645.8 L651.0 642.9 L654.6 641.4 L655.4 645.8 L651.0 647.3 L651.7 653.1 L653.9 656.0 L655.4 663.3 L651.0 663.3 L646.6 658.9 L643.7 653.1 L639.3 648.7 L635.0 647.3 L632.0 642.9 L627.7 641.4 L624.8 642.9 L626.2 648.7 L630.6 656.0 L632.0 663.3 L632.8 670.6 L630.6 672.0 L627.7 664.8 L624.8 663.3 L624.8 670.6 L618.9 676.4 L616.0 682.2 L613.1 682.2 L610.9 676.4 L609.4 673.5 L605.8 679.3 L602.9 672.0 L601.4 676.4 L602.2 685.2 L560.0 730.0 L440.0 720.0 Z" fill="#8b1a1a" stroke="#f04206" stroke-width="1.6" stroke-linejoin="round"/>
<path d="M486.3 538.3 L493.4 539.3 L501.5 544.3 L499.4 549.4 L494.4 546.3 L490.4 542.3 Z" fill="#c5300d" stroke="#ff4500" stroke-width="1.2"/>
<path d="M501.5 551.4 L504.5 552.4 L507.5 557.4 L505.0 557.4 Z" fill="#c5300d" stroke="#ff4500" stroke-width="1.2"/>
<path d="M460.1 534.2 L464.1 534.2 L467.7 539.3 L467.2 543.3 L463.1 540.3 Z" fill="#c5300d" stroke="#ff4500" stroke-width="1.2"/>
<path d="M464.1 527.2 L466.7 527.2 L466.7 529.7 L464.1 529.7 Z" fill="#c5300d" stroke="#ff4500" stroke-width="1.2"/>
<path d="M457.6 579.6 L465.1 574.6 L465.8 576.8 L459.6 583.5 Z" fill="#c5300d" stroke="#ff4500" stroke-width="1.2"/>
<path d="M471.7 584.2 L478.3 585.7 L480.3 590.7 L475.2 593.0 L472.0 588.2 Z" fill="#c5300d" stroke="#ff4500" stroke-width="1.2"/>
<path d="M544.4 565.0 L546.9 565.5 L550.9 572.6 L550.9 576.1 L546.9 571.6 Z" fill="#c5300d" stroke="#ff4500" stroke-width="1.2"/>
<path d="M457.2 580.7 L464.0 575.1 L465.6 576.8 L458.9 583.5 Z" fill="#c5300d" stroke="#ff4500" stroke-width="1.2"/>
<path d="M428.0 582.0 L434.0 575.0 L440.0 574.0 L441.6 579.0 L436.0 581.0 L432.0 586.0 Z" fill="#c5300d" stroke="#ff4500" stroke-width="1.2"/>
<path d="M412.0 558.0 L414.4 558.4 L414.4 562.0 L412.4 561.6 Z" fill="#c5300d" stroke="#ff4500" stroke-width="1.2"/>
<path d="M688.9 675.2 L693.3 670.6 L699.1 669.1 L699.8 675.2 Z" fill="#c5300d" stroke="#ff4500" stroke-width="1.2"/>
<path d="M702.7 675.2 L707.8 663.3 L710.8 663.3 L712.2 669.1 L715.9 666.2 L716.6 651.6 L719.5 653.1 L723.9 658.9 L725.3 669.1 L730.0 672.0 L730.0 675.2 Z" fill="#c5300d" stroke="#ff4500" stroke-width="1.2"/>
<path d="M698.4 640.0 L700.6 637.1 L702.0 637.8 L699.8 642.2 Z" fill="#c5300d" stroke="#ff4500" stroke-width="1.2"/>
<path d="M634.2 679.0 L637.1 679.0 L637.1 682.0 L634.2 682.0 Z" fill="#c5300d" stroke="#ff4500" stroke-width="1.2"/>
<path d="M698.3 638.6 L701.9 636.8 L701.9 640.4 L698.9 642.7 Z" fill="#c5300d" stroke="#ff4500" stroke-width="1.2"/>
<path d="M759.0 634.0 L761.0 634.0 L761.0 636.0 L759.0 636.0 Z" fill="#c5300d" stroke="#ff4500" stroke-width="1.2"/>
</g></g>
<path d="M352.0 196.1 L970.2 196.1 L969.0 185.6 L978.0 185.6 L981.0 202.0 L988.0 204.0 L999.0 206.0 L1002.0 209.0 L1012.0 205.6 L1020.0 206.0 L1026.0 210.0 L1032.0 217.0 L1038.0 213.6 L1048.0 219.0 L1054.0 221.6 L1065.0 217.0 L1070.0 221.0 L1084.0 221.6 L1097.0 223.0 L1084.0 229.0 L1070.0 235.0 L1060.0 242.0 L1050.0 250.0 L1040.0 257.0 L1034.0 261.0 L1044.0 259.0 L1060.0 255.0 L1067.0 254.0 L1065.0 262.0 L1072.0 259.0 L1080.0 260.0 L1090.0 257.0 L1100.0 253.0 L1110.0 248.0 L1122.0 241.0 L1136.0 238.4 L1137.6 242.0 L1126.0 246.0 L1120.0 254.0 L1119.0 259.0 L1128.0 253.0 L1140.0 256.0 L1145.0 266.0 L1154.0 267.0 L1160.0 268.0 L1170.0 261.0 L1180.0 260.0 L1198.0 258.0 L1199.0 266.0 L1210.0 267.0 L1216.0 275.0 L1221.0 279.6 L1204.0 279.0 L1201.2 282.6 L1208.4 286.8 L1215.5 292.1 L1226.3 295.7 L1233.5 300.2 L1236.2 306.5 L1231.7 307.4 L1234.4 316.4 L1233.5 323.5 L1229.9 328.9 L1223.6 334.3 L1220.0 339.7 L1221.8 345.0 L1226.3 347.7 L1231.7 341.5 L1238.8 334.3 L1244.2 333.4 L1249.6 337.9 L1252.3 346.8 L1253.2 355.8 L1254.6 363.0 L1252.3 371.9 L1247.8 373.7 L1244.2 373.7 L1242.4 380.9 L1238.0 386.3 L1235.3 393.5 L1231.7 398.0 L1242.0 406.0 L1246.0 405.0 L1254.0 408.0 L1268.0 405.0 L1280.0 398.0 L1297.0 393.0 L1312.0 386.0 L1324.0 377.0 L1333.0 370.0 L1332.0 362.0 L1329.0 358.0 L1350.0 353.6 L1362.0 356.0 L1380.0 355.0 L1390.0 349.0 L1393.0 342.0 L1390.0 335.0 L1400.0 326.0 L1404.0 320.0 L1416.0 310.0 L1422.0 307.0 L1440.0 306.9 L1497.3 306.4 L1499.2 300.2 L1506.6 299.0 L1514.0 296.5 L1517.7 291.6 L1521.4 286.6 L1525.1 281.7 L1525.1 273.1 L1531.3 265.7 L1532.5 259.5 L1549.8 238.5 L1554.0 239.2 L1555.5 244.2 L1569.6 241.0 L1574.5 242.2 L1582.6 249.6 L1582.6 286.6 L1589.3 291.6 L1589.3 299.0 L1595.5 303.9 L1599.2 308.8 L1597.9 315.0 L1588.1 318.7 L1578.2 321.2 L1568.3 324.9 L1560.9 321.2 L1556.0 326.1 L1548.6 334.7 L1538.7 338.4 L1531.3 340.9 L1525.1 345.9 L1521.4 354.5 L1516.5 363.1 L1512.8 368.1 L1514.0 374.2 L1509.1 381.6 L1507.9 382.4 L1514.1 384.7 L1518.1 389.4 L1520.4 394.9 L1522.8 397.9 L1529.8 396.1 L1529.2 392.6 L1525.9 389.8 L1529.1 388.1 L1533.0 390.8 L1535.0 397.3 L1533.1 402.9 L1528.3 399.2 L1522.8 399.6 L1518.1 400.6 L1514.1 403.5 L1510.2 405.9 L1506.3 407.1 L1500.0 407.5 L1495.3 408.6 L1491.0 411.4 L1491.6 416.9 L1491.0 419.2 L1479.6 425.1 L1461.6 431.4 L1445.9 433.7 L1435.7 434.1 L1444.0 438.0 L1442.0 452.0 L1436.0 464.0 L1428.0 474.0 L1422.0 478.0 L1419.5 479.5 L1420.2 489.7 L1416.6 499.9 L1412.9 508.7 L1408.6 507.2 L1402.0 516.0 L1397.6 524.7 L1400.5 530.5 L1403.1 542.4 L1406.5 555.9 L1409.8 564.8 L1411.5 569.3 L1411.5 579.4 L1409.0 583.0 L1403.1 584.8 L1397.5 587.6 L1393.0 592.1 L1388.6 597.7 L1386.3 600.5 L1384.6 597.9 L1378.5 597.9 L1371.7 599.8 L1365.0 603.2 L1358.3 608.8 L1354.9 615.3 L1348.0 618.0 L1342.0 619.0 L1336.0 622.0 L1330.0 628.0 L1326.0 636.0 L1320.0 644.0 L1312.0 652.0 L1304.0 657.0 L1296.0 662.0 L1289.0 668.0 L1284.0 678.0 L1280.0 688.0 L1277.0 696.0 L1278.0 714.0 L1277.0 714.0 L1280.0 726.0 L1284.0 740.0 L1290.0 756.0 L1292.0 764.0 L1295.0 776.0 L1300.0 790.0 L1305.0 804.0 L1308.0 816.0 L1308.0 830.0 L1306.0 844.0 L1303.0 854.0 L1299.0 861.0 L1292.0 863.0 L1285.0 864.0 L1282.0 859.0 L1280.0 852.0 L1276.0 846.0 L1270.0 842.0 L1267.0 832.0 L1264.0 824.0 L1260.0 818.0 L1256.0 812.0 L1252.0 802.0 L1249.0 796.0 L1250.0 792.0 L1245.0 786.0 L1246.0 778.0 L1249.0 768.0 L1248.5 761.7 L1245.3 753.3 L1239.0 748.1 L1233.8 739.7 L1228.6 732.4 L1222.3 726.1 L1218.1 724.0 L1212.9 726.1 L1211.8 730.3 L1203.4 733.4 L1195.0 736.6 L1187.7 737.1 L1186.1 732.4 L1185.6 726.1 L1180.4 720.9 L1175.1 715.6 L1168.9 712.5 L1162.6 713.0 L1155.2 714.6 L1149.0 711.4 L1144.8 714.6 L1140.6 716.7 L1136.4 717.7 L1132.2 719.8 L1131.1 711.4 L1129.6 705.1 L1127.5 710.4 L1126.4 717.7 L1122.8 717.7 L1117.5 716.7 L1109.1 714.6 L1102.9 716.7 L1098.7 719.8 L1095.5 721.9 L1102.9 723.0 L1104.4 729.2 L1099.7 733.4 L1094.0 737.1 L1094.5 741.8 L1100.8 746.0 L1107.0 749.7 L1105.0 753.3 L1098.7 756.0 L1098.7 753.3 L1101.8 750.2 L1096.6 748.1 L1091.3 745.0 L1086.1 741.8 L1084.0 742.9 L1084.0 749.1 L1079.8 752.3 L1075.6 748.1 L1070.4 747.0 L1065.1 752.3 L1061.0 749.1 L1057.8 743.9 L1051.5 739.7 L1046.3 734.5 L1040.0 731.3 L1030.0 740.0 L1020.0 736.0 L1008.0 733.0 L998.0 733.0 L988.0 736.0 L980.0 738.0 L979.0 733.0 L975.0 736.0 L972.0 748.0 L966.0 756.0 L956.0 762.0 L944.0 764.0 L936.0 767.0 L930.0 774.0 L922.0 782.0 L918.0 790.0 L918.0 798.0 L911.0 799.0 L912.0 802.0 L917.0 804.0 L918.0 814.0 L922.0 826.0 L925.0 839.0 L920.0 842.0 L912.0 839.0 L902.0 838.0 L892.0 833.0 L882.0 829.0 L878.0 820.0 L873.0 810.0 L873.0 802.0 L870.0 796.0 L864.0 788.0 L856.0 776.0 L850.0 764.0 L844.0 751.0 L836.0 742.0 L828.0 734.0 L818.0 734.0 L809.0 732.0 L802.0 736.0 L799.0 742.0 L796.0 751.0 L789.0 756.0 L780.0 752.0 L770.0 745.0 L760.0 736.0 L756.0 726.0 L752.0 714.0 L750.0 712.0 L740.0 702.0 L728.0 690.0 L720.0 680.0 L715.5 678.1 L677.9 678.1 L677.9 690.7 L613.9 690.7 L531.0 658.0 L530.0 655.0 L534.0 650.4 L479.0 656.0 L477.0 652.0 L476.0 644.0 L472.0 636.0 L466.0 630.0 L458.0 623.0 L452.0 622.0 L448.0 615.0 L440.0 613.0 L432.0 610.0 L424.0 604.0 L414.0 603.0 L404.0 602.0 L400.0 598.0 L400.0 586.0 L396.0 582.0 L394.0 575.0 L386.0 568.0 L380.0 560.0 L373.0 552.0 L370.0 544.0 L375.0 536.0 L367.0 532.0 L362.0 526.0 L360.0 520.0 L364.0 518.0 L358.0 510.0 L360.0 503.0 L349.0 503.0 L347.0 498.0 L343.0 491.0 L338.0 484.0 L331.0 476.0 L328.0 466.0 L330.0 460.0 L329.0 454.0 L324.0 446.0 L317.0 440.0 L315.6 434.0 L319.0 424.0 L322.0 414.0 L323.0 404.0 L320.0 398.0 L319.0 391.0 L316.0 384.0 L316.0 374.0 L312.0 368.0 L316.0 358.0 L320.0 346.0 L322.0 332.0 L323.0 320.0 L325.0 304.0 L327.0 292.0 L326.0 280.0 L325.0 273.0 L324.1 270.2 L324.7 263.5 L329.1 259.0 L324.1 256.7 L330.3 252.3 L323.5 252.3 L321.9 247.8 L317.9 242.2 L316.8 236.6 L314.6 229.8 L310.7 226.5 L307.8 218.6 L307.8 213.0 L311.2 211.9 L322.4 215.8 L331.4 218.1 L342.6 218.6 L346.0 220.9 L351.6 218.6 L352.7 213.0 L352.7 201.8 L351.6 196.2 Z" fill="none" stroke="#8b1a1a" stroke-width="6" stroke-linejoin="round" clip-path="url(#gulf)"/>
<path d="M1268.0 879.0 L1276.0 874.0 L1288.0 872.0 L1289.0 874.0 L1278.0 878.0 L1270.0 880.4 Z" fill="#8b1a1a"/>
<path d="M1292.0 870.0 L1300.0 862.0 L1304.4 855.0 L1305.2 858.0 L1300.0 866.0 L1294.0 872.0 Z" fill="#8b1a1a"/>
<path d="M1259.6 879.6 L1262.4 878.0 L1263.6 879.6 L1260.8 880.8 Z" fill="#8b1a1a"/>
<path d="M1242.4 877.6 L1244.8 877.6 L1244.8 879.6 L1242.4 879.6 Z" fill="#8b1a1a"/>
<path d="M1291.0 762.0 L1295.0 764.0 L1298.0 771.0 L1297.0 774.0 L1293.6 772.0 Z" fill="#8b1a1a"/>
<path d="M1202.6 283.5 L1200.3 284.3 L1195.6 285.9 L1193.2 291.4 L1194.8 294.5 L1198.7 296.1 L1191.6 298.5 L1188.5 300.0 L1185.4 302.4 L1180.6 305.5 L1175.9 307.9 L1172.0 311.0 L1168.9 314.2 L1168.1 318.1 L1167.3 322.8 L1164.9 330.0 L1163.2 334.3 L1164.4 339.7 L1162.6 346.8 L1165.3 353.1 L1168.0 359.4 L1170.2 368.4 L1168.9 377.3 L1165.3 386.3 L1160.8 394.4 L1154.6 398.8 L1145.6 400.6 L1141.1 398.0 L1138.1 391.7 L1135.7 384.5 L1133.9 379.1 L1135.7 373.7 L1133.9 366.6 L1132.1 359.4 L1133.9 352.2 L1136.6 343.3 L1138.4 334.3 L1141.4 330.0 L1141.0 325.1 L1143.0 319.7 L1145.3 314.9 L1149.2 307.1 L1152.4 300.8 L1157.1 294.5 L1161.0 291.0 L1164.9 286.7 L1169.7 282.8 L1176.7 281.2 L1184.6 277.3 L1190.1 276.5 L1196.3 278.8 L1200.3 282.8 L1202.6 283.5 Z" fill="#fff" stroke="none"/>
<path d="M1156.7 290.5 L1150.8 289.7 L1148.1 292.2 L1145.7 298.5 L1143.4 303.6 L1140.2 308.3 L1135.9 313.4 L1132.4 316.7 L1137.1 312.2 L1141.4 308.3 L1144.9 303.2 L1148.5 298.9 L1152.8 295.3 L1157.1 291.8 Z" fill="#fff" stroke="none"/>
<path d="M1181.0 285.1 L1184.6 283.5 L1187.3 285.1 L1189.7 285.0 L1188.9 287.1 L1187.3 287.5 L1186.9 290.6 L1184.2 293.0 L1181.3 291.4 L1180.6 288.3 Z" fill="#0000cd"/>
<path d="M1175.9 295.7 L1178.7 293.4 L1181.0 293.4 L1180.6 295.7 L1178.3 297.8 L1176.6 297.3 Z" fill="#0000cd"/>
<path d="M1169.0 307.1 L1172.0 304.0 L1173.2 300.8 L1174.4 303.6 L1176.1 305.9 L1175.1 307.5 L1172.0 307.9 L1170.3 310.1 Z" fill="#0000cd"/>
<path d="M1152.4 297.3 L1157.1 291.0 L1159.6 291.6 L1160.2 293.9 L1155.5 299.2 Z" fill="#0000cd"/>
<path d="M1143.0 301.4 L1144.5 301.4 L1144.9 303.6 L1143.4 303.8 Z" fill="#0000cd"/>
<g fill="none" stroke="#000" stroke-width="3.8" stroke-linejoin="round" stroke-linecap="round">
<path d="M352.0 196.1 L970.2 196.1 L969.0 185.6 L978.0 185.6 L981.0 202.0 L988.0 204.0 L999.0 206.0 L1002.0 209.0 L1012.0 205.6 L1020.0 206.0 L1026.0 210.0 L1032.0 217.0 L1038.0 213.6 L1048.0 219.0 L1054.0 221.6 L1065.0 217.0 L1070.0 221.0 L1084.0 221.6 L1097.0 223.0 L1084.0 229.0 L1070.0 235.0 L1060.0 242.0 L1050.0 250.0 L1040.0 257.0 L1034.0 261.0 L1044.0 259.0 L1060.0 255.0 L1067.0 254.0 L1065.0 262.0 L1072.0 259.0 L1080.0 260.0 L1090.0 257.0 L1100.0 253.0 L1110.0 248.0 L1122.0 241.0 L1136.0 238.4 L1137.6 242.0 L1126.0 246.0 L1120.0 254.0 L1119.0 259.0 L1128.0 253.0 L1140.0 256.0 L1145.0 266.0 L1154.0 267.0 L1160.0 268.0 L1170.0 261.0 L1180.0 260.0 L1198.0 258.0 L1199.0 266.0 L1210.0 267.0 L1216.0 275.0 L1221.0 279.6 L1204.0 279.0 L1201.2 282.6 L1208.4 286.8 L1215.5 292.1 L1226.3 295.7 L1233.5 300.2 L1236.2 306.5 L1231.7 307.4 L1234.4 316.4 L1233.5 323.5 L1229.9 328.9 L1223.6 334.3 L1220.0 339.7 L1221.8 345.0 L1226.3 347.7 L1231.7 341.5 L1238.8 334.3 L1244.2 333.4 L1249.6 337.9 L1252.3 346.8 L1253.2 355.8 L1254.6 363.0 L1252.3 371.9 L1247.8 373.7 L1244.2 373.7 L1242.4 380.9 L1238.0 386.3 L1235.3 393.5 L1231.7 398.0 L1242.0 406.0 L1246.0 405.0 L1254.0 408.0 L1268.0 405.0 L1280.0 398.0 L1297.0 393.0 L1312.0 386.0 L1324.0 377.0 L1333.0 370.0 L1332.0 362.0 L1329.0 358.0 L1350.0 353.6 L1362.0 356.0 L1380.0 355.0 L1390.0 349.0 L1393.0 342.0 L1390.0 335.0 L1400.0 326.0 L1404.0 320.0 L1416.0 310.0 L1422.0 307.0 L1440.0 306.9 L1497.3 306.4 L1499.2 300.2 L1506.6 299.0 L1514.0 296.5 L1517.7 291.6 L1521.4 286.6 L1525.1 281.7 L1525.1 273.1 L1531.3 265.7 L1532.5 259.5 L1549.8 238.5 L1554.0 239.2 L1555.5 244.2 L1569.6 241.0 L1574.5 242.2 L1582.6 249.6 L1582.6 286.6 L1589.3 291.6 L1589.3 299.0 L1595.5 303.9 L1599.2 308.8 L1597.9 315.0 L1588.1 318.7 L1578.2 321.2 L1568.3 324.9 L1560.9 321.2 L1556.0 326.1 L1548.6 334.7 L1538.7 338.4 L1531.3 340.9 L1525.1 345.9 L1521.4 354.5 L1516.5 363.1 L1512.8 368.1 L1514.0 374.2 L1509.1 381.6 L1507.9 382.4 L1514.1 384.7 L1518.1 389.4 L1520.4 394.9 L1522.8 397.9 L1529.8 396.1 L1529.2 392.6 L1525.9 389.8 L1529.1 388.1 L1533.0 390.8 L1535.0 397.3 L1533.1 402.9 L1528.3 399.2 L1522.8 399.6 L1518.1 400.6 L1514.1 403.5 L1510.2 405.9 L1506.3 407.1 L1500.0 407.5 L1495.3 408.6 L1491.0 411.4 L1491.6 416.9 L1491.0 419.2 L1479.6 425.1 L1461.6 431.4 L1445.9 433.7 L1435.7 434.1 L1444.0 438.0 L1442.0 452.0 L1436.0 464.0 L1428.0 474.0 L1422.0 478.0 L1419.5 479.5 L1420.2 489.7 L1416.6 499.9 L1412.9 508.7 L1408.6 507.2 L1402.0 516.0 L1397.6 524.7 L1400.5 530.5 L1403.1 542.4 L1406.5 555.9 L1409.8 564.8 L1411.5 569.3 L1411.5 579.4 L1409.0 583.0 L1403.1 584.8 L1397.5 587.6 L1393.0 592.1 L1388.6 597.7 L1386.3 600.5 L1384.6 597.9 L1378.5 597.9 L1371.7 599.8 L1365.0 603.2 L1358.3 608.8 L1354.9 615.3 L1348.0 618.0 L1342.0 619.0 L1336.0 622.0 L1330.0 628.0 L1326.0 636.0 L1320.0 644.0 L1312.0 652.0 L1304.0 657.0 L1296.0 662.0 L1289.0 668.0 L1284.0 678.0 L1280.0 688.0 L1277.0 696.0 L1278.0 714.0 L1277.0 714.0 L1280.0 726.0 L1284.0 740.0 L1290.0 756.0 L1292.0 764.0 L1295.0 776.0 L1300.0 790.0 L1305.0 804.0 L1308.0 816.0 L1308.0 830.0 L1306.0 844.0 L1303.0 854.0 L1299.0 861.0 L1292.0 863.0 L1285.0 864.0 L1282.0 859.0 L1280.0 852.0 L1276.0 846.0 L1270.0 842.0 L1267.0 832.0 L1264.0 824.0 L1260.0 818.0 L1256.0 812.0 L1252.0 802.0 L1249.0 796.0 L1250.0 792.0 L1245.0 786.0 L1246.0 778.0 L1249.0 768.0 L1248.5 761.7 L1245.3 753.3 L1239.0 748.1 L1233.8 739.7 L1228.6 732.4 L1222.3 726.1 L1218.1 724.0 L1212.9 726.1 L1211.8 730.3 L1203.4 733.4 L1195.0 736.6 L1187.7 737.1 L1186.1 732.4 L1185.6 726.1 L1180.4 720.9 L1175.1 715.6 L1168.9 712.5 L1162.6 713.0 L1155.2 714.6 L1149.0 711.4 L1144.8 714.6 L1140.6 716.7 L1136.4 717.7 L1132.2 719.8 L1131.1 711.4 L1129.6 705.1 L1127.5 710.4 L1126.4 717.7 L1122.8 717.7 L1117.5 716.7 L1109.1 714.6 L1102.9 716.7 L1098.7 719.8 L1095.5 721.9 L1102.9 723.0 L1104.4 729.2 L1099.7 733.4 L1094.0 737.1 L1094.5 741.8 L1100.8 746.0 L1107.0 749.7 L1105.0 753.3 L1098.7 756.0 L1098.7 753.3 L1101.8 750.2 L1096.6 748.1 L1091.3 745.0 L1086.1 741.8 L1084.0 742.9 L1084.0 749.1 L1079.8 752.3 L1075.6 748.1 L1070.4 747.0 L1065.1 752.3 L1061.0 749.1 L1057.8 743.9 L1051.5 739.7 L1046.3 734.5 L1040.0 731.3 L1030.0 740.0 L1020.0 736.0 L1008.0 733.0 L998.0 733.0 L988.0 736.0 L980.0 738.0 L979.0 733.0 L975.0 736.0 L972.0 748.0 L966.0 756.0 L956.0 762.0 L944.0 764.0 L936.0 767.0 L930.0 774.0 L922.0 782.0 L918.0 790.0 L918.0 798.0 L911.0 799.0 L912.0 802.0 L917.0 804.0 L918.0 814.0 L922.0 826.0 L925.0 839.0 L920.0 842.0 L912.0 839.0 L902.0 838.0 L892.0 833.0 L882.0 829.0 L878.0 820.0 L873.0 810.0 L873.0 802.0 L870.0 796.0 L864.0 788.0 L856.0 776.0 L850.0 764.0 L844.0 751.0 L836.0 742.0 L828.0 734.0 L818.0 734.0 L809.0 732.0 L802.0 736.0 L799.0 742.0 L796.0 751.0 L789.0 756.0 L780.0 752.0 L770.0 745.0 L760.0 736.0 L756.0 726.0 L752.0 714.0 L750.0 712.0 L740.0 702.0 L728.0 690.0 L720.0 680.0 L715.5 678.1 L677.9 678.1 L677.9 690.7 L613.9 690.7 L531.0 658.0 L530.0 655.0 L534.0 650.4 L479.0 656.0 L477.0 652.0 L476.0 644.0 L472.0 636.0 L466.0 630.0 L458.0 623.0 L452.0 622.0 L448.0 615.0 L440.0 613.0 L432.0 610.0 L424.0 604.0 L414.0 603.0 L404.0 602.0 L400.0 598.0 L400.0 586.0 L396.0 582.0 L394.0 575.0 L386.0 568.0 L380.0 560.0 L373.0 552.0 L370.0 544.0 L375.0 536.0 L367.0 532.0 L362.0 526.0 L360.0 520.0 L364.0 518.0 L358.0 510.0 L360.0 503.0 L349.0 503.0 L347.0 498.0 L343.0 491.0 L338.0 484.0 L331.0 476.0 L328.0 466.0 L330.0 460.0 L329.0 454.0 L324.0 446.0 L317.0 440.0 L315.6 434.0 L319.0 424.0 L322.0 414.0 L323.0 404.0 L320.0 398.0 L319.0 391.0 L316.0 384.0 L316.0 374.0 L312.0 368.0 L316.0 358.0 L320.0 346.0 L322.0 332.0 L323.0 320.0 L325.0 304.0 L327.0 292.0 L326.0 280.0 L325.0 273.0 L324.1 270.2 L324.7 263.5 L329.1 259.0 L324.1 256.7 L330.3 252.3 L323.5 252.3 L321.9 247.8 L317.9 242.2 L316.8 236.6 L314.6 229.8 L310.7 226.5 L307.8 218.6 L307.8 213.0 L311.2 211.9 L322.4 215.8 L331.4 218.1 L342.6 218.6 L346.0 220.9 L351.6 218.6 L352.7 213.0 L352.7 201.8 L351.6 196.2 Z"/>
<path d="M1202.6 283.5 L1200.3 284.3 L1195.6 285.9 L1193.2 291.4 L1194.8 294.5 L1198.7 296.1 L1191.6 298.5 L1188.5 300.0 L1185.4 302.4 L1180.6 305.5 L1175.9 307.9 L1172.0 311.0 L1168.9 314.2 L1168.1 318.1 L1167.3 322.8 L1164.9 330.0 L1163.2 334.3 L1164.4 339.7 L1162.6 346.8 L1165.3 353.1 L1168.0 359.4 L1170.2 368.4 L1168.9 377.3 L1165.3 386.3 L1160.8 394.4 L1154.6 398.8 L1145.6 400.6 L1141.1 398.0 L1138.1 391.7 L1135.7 384.5 L1133.9 379.1 L1135.7 373.7 L1133.9 366.6 L1132.1 359.4 L1133.9 352.2 L1136.6 343.3 L1138.4 334.3 L1141.4 330.0 L1141.0 325.1 L1143.0 319.7 L1145.3 314.9 L1149.2 307.1 L1152.4 300.8"/>
<path d="M1161.0 291.0 L1164.9 286.7 L1169.7 282.8 L1176.7 281.2 L1184.6 277.3 L1190.1 276.5 L1196.3 278.8 L1200.3 282.8 L1202.6 283.5"/>
<path d="M1128.1 320.8 L1129.6 316.5 L1133.5 310.2 L1137.5 304.7 L1141.4 302.4 L1144.5 296.9 L1147.3 290.6 L1150.0 285.1 L1152.4 281.6"/>
<path d="M480.3 196.1 L481.0 272.0 L483.0 276.0 L482.4 279.4"/>
<path d="M325.0 273.0 L330.0 272.4 L336.0 274.0 L343.0 274.0 L349.0 278.0 L351.6 284.0 L352.4 289.6 L362.0 292.4 L369.0 289.6 L378.0 288.0 L388.0 290.0 L400.0 288.0 L404.0 288.0 L412.0 285.0 L422.0 282.4 L436.0 279.4 L482.4 279.4"/>
<path d="M482.4 279.4 L488.0 284.0 L493.0 289.0 L490.0 298.0 L486.0 306.0 L483.0 313.0 L478.0 317.0 L475.6 324.0 L478.0 328.0 L482.4 330.0 L481.0 338.0 L480.5 392.1"/>
<path d="M502.4 196.1 L502.4 224.0 L508.0 230.0 L511.0 234.0 L509.0 239.0 L517.0 244.0 L522.0 248.0 L528.0 256.0 L533.0 261.0 L541.0 261.0 L540.0 268.0 L537.0 276.0 L539.0 283.0 L536.0 286.0 L536.0 292.0 L542.0 295.0 L549.0 288.0 L553.0 292.0 L556.0 300.0 L561.0 306.0 L560.0 311.0 L567.0 314.0 L570.0 322.0 L574.0 324.4 L576.0 322.0 L584.0 322.4 L587.0 320.0 L604.0 320.0 L606.0 314.4 L609.0 316.0 L614.0 322.0"/>
<path d="M320.0 392.1 L614.3 392.1"/>
<path d="M614.3 308.1 L614.3 420.1 L659.1 420.1"/>
<path d="M614.3 308.1 L771.0 308.1"/>
<path d="M771.0 196.1 L771.0 420.1"/>
<path d="M659.1 420.1 L815.7 420.1 L815.7 532.0"/>
<path d="M659.1 420.1 L659.1 690.7"/>
<path d="M547.4 392.1 L547.4 532.0"/>
<path d="M414.0 392.1 L414.0 476.0 L535.0 586.0"/>
<path d="M547.4 532.0 L547.0 548.0 L545.0 556.0 L540.0 558.0 L533.0 557.0 L532.0 564.0 L534.0 576.0 L535.0 586.0 L539.0 596.0 L543.0 604.0 L545.0 608.0 L539.0 614.0 L536.0 622.0 L535.0 630.0 L532.0 635.0 L533.0 642.0 L537.0 646.0 L534.0 650.4"/>
<path d="M547.4 532.0 L982.0 532.0"/>
<path d="M659.1 672.0 L659.1 690.7"/>
<path d="M794.5 532.0 L794.5 546.0 L793.3 672.0 L713.9 672.0"/>
<path d="M794.5 546.0 L861.6 546.0 L861.0 599.0 L868.0 604.0 L875.0 603.0 L880.0 608.0 L886.0 610.0 L892.0 612.0 L897.0 611.0 L903.0 613.0 L908.0 618.0 L913.0 616.0 L919.0 620.0 L924.0 622.0 L929.0 617.6 L936.0 619.0 L942.0 623.0 L950.0 620.0 L960.0 617.0 L968.0 616.0 L974.0 620.0 L980.0 624.0 L986.0 627.0 L994.0 627.0"/>
<path d="M771.0 281.8 L938.6 281.8"/>
<path d="M924.0 196.0 L926.0 206.0 L924.4 214.0 L927.0 222.0 L931.0 232.0 L932.0 242.0 L933.0 254.0 L936.0 264.0 L939.0 274.0 L939.0 281.6 L937.0 287.0 L932.0 289.6 L935.0 294.0 L941.0 298.0 L941.1 350.1"/>
<path d="M941.1 350.1 L1058.1 350.1"/>
<path d="M941.1 350.1 L941.0 358.0 L940.0 366.0 L937.0 374.0"/>
<path d="M771.0 364.1 L895.0 363.6 L906.0 370.4 L910.0 368.0 L920.0 368.0 L930.0 371.0 L937.0 374.0 L942.0 380.0 L945.0 390.0 L949.0 400.0 L953.0 410.0 L955.0 422.0 L954.0 428.0 L958.0 434.0 L962.0 440.0 L965.0 447.0 L970.0 451.0 L975.0 452.0 L975.0 456.0 L971.0 460.0 L976.0 466.0 L979.0 471.0 L982.0 472.0 L982.0 532.0 L982.0 546.0"/>
<path d="M815.7 448.0 L966.8 448.0"/>
<path d="M957.0 430.4 L1048.0 430.4 L1053.0 435.0"/>
<path d="M982.0 546.0 L985.0 576.0 L985.6 624.0 L994.0 627.0 L994.0 672.0 L997.0 676.0 L1001.0 684.0 L1004.0 692.0 L1006.0 700.0 L1003.0 708.0 L1002.0 724.0 L998.0 733.0"/>
<path d="M982.0 546.0 L1082.1 546.0 L1084.0 551.0 L1078.0 559.0 L1090.0 559.0"/>
<path d="M994.0 643.0 L1058.0 643.0"/>
<path d="M1034.0 261.0 L1034.0 278.0 L1024.0 283.0 L1019.4 289.6 L1024.0 296.0 L1022.4 312.0 L1026.0 317.0 L1040.0 325.0 L1045.0 332.0 L1056.0 340.0 L1058.0 350.0 L1058.0 358.0 L1060.0 367.0 L1069.0 374.0 L1073.0 380.0 L1080.0 386.0 L1082.0 393.0 L1078.0 401.0 L1070.0 405.0 L1062.0 407.0 L1060.0 413.0 L1063.6 418.0 L1060.0 427.0 L1053.0 432.0 L1051.0 442.0 L1053.0 452.0 L1060.0 460.0 L1068.0 468.0 L1071.0 478.0 L1076.0 477.0 L1082.0 479.0 L1080.0 488.0 L1076.0 495.0 L1080.0 501.0 L1088.0 508.0 L1096.0 514.0 L1098.0 521.0 L1096.0 525.0 L1101.0 530.0 L1104.0 536.0 L1104.0 536.0 L1098.0 544.0 L1094.0 548.0 L1091.0 558.0 L1086.0 568.0 L1081.0 578.0 L1082.0 584.0 L1078.0 590.0 L1072.0 598.0 L1068.0 606.0 L1062.0 614.0 L1058.0 624.0 L1060.0 634.0 L1058.0 643.0 L1060.0 652.0 L1064.0 662.0 L1058.0 668.0 L1060.0 674.0 L1054.0 682.0 L1050.0 690.0 L1048.0 699.0 L1048.4 693.6 L1049.4 699.4 L1091.3 699.4 L1088.7 706.2 L1090.3 711.4 L1093.4 717.7 L1095.5 721.9"/>
<path d="M1072.0 377.4 L1134.0 377.4"/>
<path d="M1067.0 262.0 L1082.0 269.0 L1100.0 274.0 L1110.0 277.0 L1110.0 277.7 L1117.8 278.8 L1125.7 281.2 L1128.1 285.1 L1133.5 286.7 L1135.1 291.4 L1132.0 296.9 L1136.7 299.2 L1137.5 304.7"/>
<path d="M1141.0 401.0 L1141.0 472.0 L1140.0 482.0 L1136.0 490.0 L1130.0 498.0 L1128.0 510.0 L1122.0 518.0 L1118.0 526.0 L1104.0 532.0"/>
<path d="M1154.0 398.4 L1230.0 399.0"/>
<path d="M1201.0 399.0 L1201.0 473.0"/>
<path d="M1297.0 429.0 L1294.0 433.0 L1292.0 442.0 L1289.0 452.0 L1284.0 460.0 L1276.0 465.0 L1270.0 469.0 L1264.0 478.0 L1258.0 481.0 L1256.0 489.0 L1251.0 491.0 L1244.0 484.0 L1236.0 486.0 L1228.0 484.0 L1220.0 482.0 L1212.0 476.0 L1208.0 472.4 L1201.0 473.0 L1200.0 480.0 L1189.0 483.0 L1186.0 490.0 L1180.0 494.0 L1174.0 502.0 L1167.0 499.0 L1160.0 507.0 L1150.0 508.0 L1140.0 505.0 L1132.0 507.0 L1128.0 510.0"/>
<path d="M1104.0 532.0 L1107.0 536.0 L1104.0 536.0"/>
<path d="M1313.0 386.0 L1313.0 391.0 L1414.0 391.0 L1419.0 397.0 L1420.0 405.0 L1426.0 408.0 L1424.0 412.0 L1420.0 418.0 L1417.0 426.0 L1420.0 431.0 L1420.0 436.0 L1427.0 443.0 L1420.0 448.0 L1416.0 451.0 L1409.0 452.0 L1404.0 456.0"/>
<path d="M1297.0 393.0 L1297.0 456.0 L1404.0 456.0"/>
<path d="M1426.0 408.0 L1446.0 418.0"/>
<path d="M1251.0 491.0 L1251.0 498.0 L1256.0 510.0 L1262.0 518.0 L1268.0 525.0 L1278.0 524.0 L1288.0 522.0 L1300.0 518.0 L1306.0 510.0 L1312.0 498.0 L1316.0 486.0 L1320.0 492.0 L1328.0 488.0 L1332.0 480.0 L1342.0 472.0 L1343.7 465.0 L1342.3 459.9 L1335.7 458.4 L1329.1 462.8 L1318.9 469.3 L1318.9 455.5"/>
<path d="M1342.3 459.9 L1348.1 458.4 L1356.1 458.0 L1359.0 461.3 L1357.6 472.3 L1345.2 459.9"/>
<path d="M1359.0 462.8 L1362.7 469.3 L1367.0 470.8 L1371.4 475.2 L1375.8 475.2 L1378.0 478.8 L1372.9 485.4 L1368.5 489.7 L1369.9 494.1 L1374.3 491.2 L1380.1 495.6 L1386.0 499.9 L1390.3 504.3"/>
<path d="M1262.0 518.0 L1252.0 524.0 L1244.0 532.0 L1240.0 536.0 L1244.0 536.0 L1226.0 542.0"/>
<path d="M1413.7 451.9 L1407.8 452.6 L1402.7 455.5 L1404.2 489.7 L1420.2 489.7"/>
<path d="M1402.0 501.4 L1413.7 499.9"/>
<path d="M1409.0 452.1 L1407.8 460.6 L1411.5 467.9 L1415.1 472.3 L1420.9 476.6 L1425.3 475.2"/>
<path d="M1407.8 459.1 L1410.7 469.3 L1415.1 478.1 L1418.0 485.4 L1419.5 489.7"/>
<path d="M1140.0 541.6 L1226.0 544.0 L1272.0 544.0 L1402.6 544.0"/>
<path d="M1104.0 536.0 L1128.0 542.0 L1140.0 541.0 L1140.0 541.6"/>
<path d="M1272.0 545.0 L1268.0 552.0 L1260.0 556.0 L1250.0 559.0 L1242.0 566.0 L1228.0 572.0 L1220.0 576.0 L1216.0 582.0 L1212.0 587.0"/>
<path d="M1082.0 587.0 L1140.0 587.4 L1140.0 588.4 L1234.0 589.0"/>
<path d="M1234.0 595.0 L1244.0 586.0 L1254.0 582.4 L1286.0 583.0 L1291.0 588.0 L1291.0 593.0 L1316.0 593.0 L1342.0 618.0"/>
<path d="M1234.0 589.0 L1234.0 595.0 L1244.0 602.0 L1252.0 616.0 L1260.0 626.0 L1266.0 636.0 L1274.0 644.0 L1278.0 652.0 L1280.0 660.0 L1284.0 668.0 L1289.0 668.0"/>
<path d="M1126.0 588.0 L1120.0 656.0 L1119.4 714.0 L1119.1 680.0 L1120.7 716.7"/>
<path d="M1183.0 589.0 L1188.0 616.0 L1194.0 648.0 L1198.0 664.0 L1194.0 672.0 L1194.0 692.0 L1198.0 706.0"/>
<path d="M1143.7 713.5 L1143.2 708.3 L1138.0 703.0 L1137.4 699.4 L1195.0 699.4"/>
<path d="M1198.0 707.0 L1262.0 712.0 L1264.0 706.0 L1272.0 704.0 L1278.0 710.0"/>
<path d="M1456.0 307.6 L1457.3 328.6 L1455.3 345.9 L1459.7 358.2 L1459.7 370.0 L1454.8 390.3 L1452.3 407.5 L1447.4 417.4"/>
<path d="M1500.5 300.2 L1498.0 316.2 L1488.1 326.1 L1482.0 343.4 L1477.0 358.2 L1474.5 370.0"/>
<path d="M1507.9 300.2 L1511.6 343.4 L1514.0 360.7 L1516.5 363.1"/>
<path d="M1459.7 370.0 L1504.2 371.0 L1512.8 368.1"/>
<path d="M1454.8 390.3 L1501.7 390.8 L1502.9 402.6"/>
<path d="M1491.8 390.3 L1491.8 410.0"/>
<path d="M1447.5 416.9 L1455.3 414.5 L1465.5 410.8 L1479.6 410.4 L1489.0 410.0 L1495.3 407.1 L1500.0 406.3 L1506.3 405.9 L1512.6 402.8 L1518.1 399.6"/>
<path d="M1446.7 430.2 L1454.5 427.1 L1463.9 423.9 L1474.9 419.2 L1479.6 415.5 L1484.3 416.9 L1490.6 417.5"/>
<path d="M1501.6 398.8 L1503.2 403.5 L1506.3 400.4 L1507.1 405.1"/>
<path d="M1092.4 721.9 L1087.1 718.8 L1080.3 716.1 L1075.1 721.9 L1076.7 725.6 L1084.0 725.6 L1090.3 724.0 L1092.4 721.9 L1095.5 726.1 L1092.4 729.2"/>
<path d="M349.0 503.0 L358.0 500.0 L367.0 502.0"/>
<path d="M360.0 503.0 L360.0 512.0 L370.0 518.0"/>
<path d="M1260.0 716.0 L1262.4 717.0"/>
<path d="M1282.4 860.0 L1288.0 861.0"/>
<path d="M972.0 736.0 L975.0 741.0 L980.0 733.0"/>
<path d="M934.0 764.0 L940.0 768.0 L946.0 762.0"/>
<path d="M911.0 799.0 L917.0 802.0"/>
</g>
<path d="M351.0 196.2 L354.9 197.3 L355.5 200.7 L360.5 202.9 L361.7 208.5 L361.1 213.0 L363.9 218.6 L366.7 223.1 L363.9 228.7 L363.9 234.3 L364.5 241.1 L361.1 246.1 L356.1 249.5 L350.4 252.3 L346.0 248.9 L344.3 243.3 L343.7 237.7 L347.1 233.2 L350.4 228.7 L352.1 223.7 L349.3 223.7 L346.0 220.9 L351.6 218.6 L352.7 213.0 L349.3 211.9 L344.3 210.2 L342.6 206.3 L347.1 202.9 L351.6 201.8 Z" fill="#000" stroke="#000" stroke-width="1.5" stroke-linejoin="round"/>
<path d="M1128.7 320.6 L1135.9 316.4 L1141.4 311.0 L1146.9 304.7 L1151.8 299.6" fill="none" stroke="#000" stroke-width="4.6" stroke-linecap="round" stroke-linejoin="round"/>
<path d="M1400.5 457.7 L1394.7 462.1 L1386.0 467.9 L1385.2 478.1 L1384.5 488.3 L1383.1 491.2 L1387.4 494.1 L1390.3 502.9 L1391.8 511.6 L1391.1 520.3 L1387.4 532.0 L1393.3 530.5 L1399.1 532.0" fill="none" stroke="#000" stroke-width="4.8" stroke-linecap="round" stroke-linejoin="round"/>
<path d="M1400.5 459.1 L1393.3 469.3 L1391.8 478.1 L1394.7 485.4 L1393.3 491.2 L1400.5 495.6 L1403.5 501.4 L1400.5 504.3 L1407.8 502.9 L1400.5 514.5 L1396.9 523.3 L1399.1 529.1" fill="none" stroke="#000" stroke-width="4.8" stroke-linecap="round" stroke-linejoin="round"/>
<path d="M1377.2 502.9 L1387.4 511.6" fill="none" stroke="#000" stroke-width="4.8" stroke-linecap="round" stroke-linejoin="round"/>
<path d="M1379.4 517.4 L1388.9 523.3" fill="none" stroke="#000" stroke-width="4.8" stroke-linecap="round" stroke-linejoin="round"/>
<path d="M1375.8 524.7 L1387.4 532.0" fill="none" stroke="#000" stroke-width="4.8" stroke-linecap="round" stroke-linejoin="round"/>
<path d="M1409.8 564.8 L1405.4 569.3 L1400.9 573.8 L1397.5 578.3 L1389.7 582.8 L1393.0 587.3 L1389.7 591.7 L1385.2 594.5 L1378.5 597.3" fill="none" stroke="#000" stroke-width="4.8" stroke-linecap="round" stroke-linejoin="round"/>
<path d="M1380.7 549.7 L1381.8 562.0 L1389.7 559.2 L1396.4 553.6 L1400.9 557.0 L1396.4 562.6 L1395.3 568.2 L1400.9 567.1" fill="none" stroke="#000" stroke-width="4.8" stroke-linecap="round" stroke-linejoin="round"/>
<path d="M1375.1 573.8 L1382.9 572.7 L1389.7 573.8 L1396.4 577.2" fill="none" stroke="#000" stroke-width="4.8" stroke-linecap="round" stroke-linejoin="round"/>
<path d="M1374.0 583.9 L1380.7 587.3 L1387.4 586.1 L1393.0 588.4" fill="none" stroke="#000" stroke-width="4.8" stroke-linecap="round" stroke-linejoin="round"/>
<path d="M1376.2 524.5 L1382.9 529.0 L1388.6 534.6 L1395.3 533.5 L1399.8 532.3" fill="none" stroke="#000" stroke-width="4.8" stroke-linecap="round" stroke-linejoin="round"/>
<path d="M1398.6 525.0 L1402.6 521.1" fill="none" stroke="#000" stroke-width="4.8" stroke-linecap="round" stroke-linejoin="round"/>
<path d="M1366.1 594.0 L1368.4 597.3 L1374.0 594.5" fill="none" stroke="#000" stroke-width="4.8" stroke-linecap="round" stroke-linejoin="round"/>
<path d="M1150.8 283.5 L1154.0 280.8 L1158.7 282.8 L1161.8 281.2 L1164.9 283.5 L1168.1 283.5 L1164.9 287.5 L1161.0 290.8 L1157.1 290.0 L1154.0 289.2 L1150.8 289.8 L1149.9 286.7 Z" fill="#000" stroke="#000" stroke-width="1" stroke-linejoin="round"/>
<path d="M1183.4 301.6 L1187.7 300.8 L1190.1 304.0 L1190.2 310.2 L1188.5 314.9 L1184.6 315.9 L1181.8 313.4 L1181.3 307.9 L1181.8 304.0 Z" fill="#000" stroke="#000" stroke-width="1" stroke-linejoin="round"/>
<path d="M1511.8 408.2 L1516.5 405.9 L1522.0 405.9 L1523.6 409.0 L1521.2 411.4 L1514.1 412.2 L1512.2 411.0 Z" fill="#000" stroke="#000" stroke-width="1" stroke-linejoin="round"/>
<path d="M1526.3 409.8 L1530.6 407.6 L1534.2 410.2 L1534.4 413.3 L1529.8 414.5 L1527.1 412.6 Z" fill="#000" stroke="#000" stroke-width="1" stroke-linejoin="round"/>
<path d="M1435.7 430.2 L1443.5 427.1 L1449.8 423.9 L1451.4 428.6 L1445.1 433.3 L1436.5 434.9 L1434.5 433.3 Z" fill="#000" stroke="#000" stroke-width="1" stroke-linejoin="round"/>
<path d="M1244.4 783.0 L1252.0 782.0 L1257.0 786.0 L1255.0 793.0 L1250.0 794.4 L1247.0 790.0 Z" fill="#000" stroke="#000" stroke-width="1" stroke-linejoin="round"/>
<path d="M1256.4 812.0 L1263.0 811.0 L1264.4 816.0 L1260.0 819.4 Z" fill="#000" stroke="#000" stroke-width="1" stroke-linejoin="round"/>
<path d="M1281.0 857.0 L1287.0 856.4 L1289.6 861.0 L1285.6 864.4 L1281.6 862.4 Z" fill="#000" stroke="#000" stroke-width="1" stroke-linejoin="round"/>
<path d="M1410.4 566.2 L1413.0 569.3 L1413.0 580.5 L1410.1 584.5 L1404.0 586.4 L1398.6 588.9 L1394.4 593.1 L1389.7 598.7 L1386.9 602.0 L1384.3 599.8 L1386.9 597.3 L1391.4 591.7 L1396.4 586.9 L1402.6 583.9 L1407.6 581.6 L1409.6 578.3 L1409.6 570.4 Z" fill="#0000cd"/>
<path d="M353.6 206.3 L356.6 205.7 L357.2 209.1 L354.4 209.9 Z" fill="#0000cd"/>
<path d="M351.0 236.0 L354.9 236.6 L354.7 239.9 L351.3 239.4 Z" fill="#0000cd"/>
</svg></body></html>
